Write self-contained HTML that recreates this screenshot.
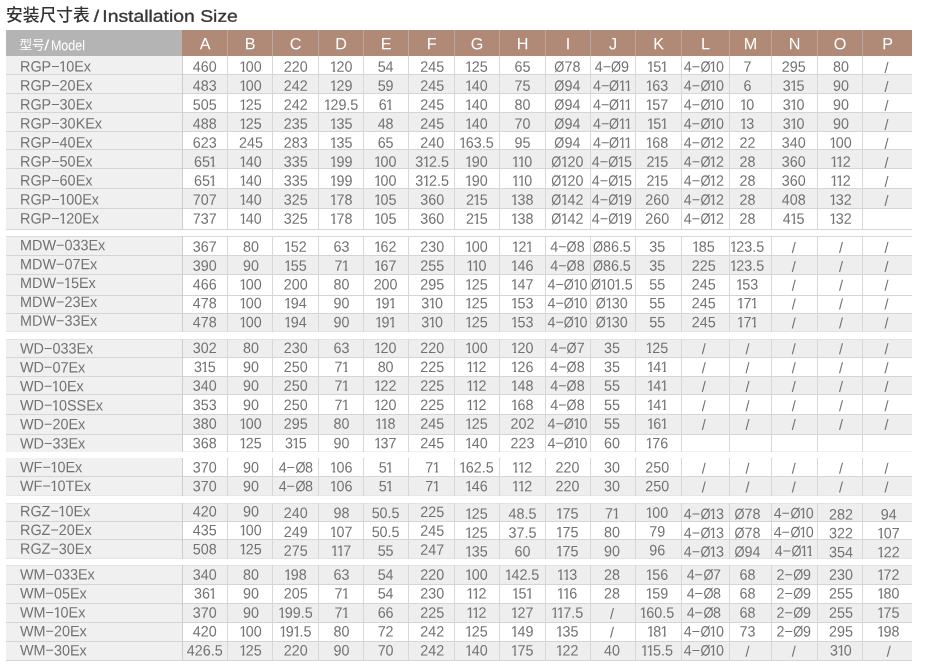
<!DOCTYPE html><html><head><meta charset="utf-8"><title>Installation Size</title><style>
html,body{margin:0;padding:0;background:#fff;}
body{width:930px;height:667px;position:relative;overflow:hidden;font-family:"Liberation Sans",sans-serif;}
.b{position:absolute;}
.t{position:absolute;white-space:nowrap;color:#727272;font-size:15px;line-height:20px;height:20px;text-align:center;}
.m{position:absolute;white-space:nowrap;color:#727272;font-size:15px;line-height:20px;height:20px;left:20px;transform-origin:0 50%;}
.h{position:absolute;white-space:nowrap;color:#fff;font-size:16.2px;line-height:26px;height:26px;top:30px;text-align:center;}
.m i,.t i{font-style:normal;display:inline-block;clip-path:polygon(0 0,100% 0,100% 13.5px,5.7px 13.5px,5.7px 100%,3.1px 100%,3.1px 13.5px,0 13.5px);}
.m i{margin:0 -0.9px 0 -0.6px;}
.t i{margin:0 -1.4px 0 -0.9px;}
.t b{font-weight:normal;display:inline-block;transform:scaleX(0.9);margin:0 -0.6px;}
#tx{position:absolute;left:0;top:0;width:930px;height:667px;will-change:transform;}
</style></head><body>
<div class="b" style="left:6px;top:30px;width:176px;height:26px;background:#b4b4b4"></div>
<div class="b" style="left:182px;top:30px;width:730px;height:26px;background:#b08a77"></div>
<div class="b" style="left:227px;top:30px;width:1px;height:26px;background:#bfa89b"></div>
<div class="b" style="left:272px;top:30px;width:1px;height:26px;background:#bfa89b"></div>
<div class="b" style="left:318px;top:30px;width:1px;height:26px;background:#bfa89b"></div>
<div class="b" style="left:363px;top:30px;width:1px;height:26px;background:#bfa89b"></div>
<div class="b" style="left:408px;top:30px;width:1px;height:26px;background:#bfa89b"></div>
<div class="b" style="left:454px;top:30px;width:1px;height:26px;background:#bfa89b"></div>
<div class="b" style="left:499px;top:30px;width:1px;height:26px;background:#bfa89b"></div>
<div class="b" style="left:545px;top:30px;width:1px;height:26px;background:#bfa89b"></div>
<div class="b" style="left:590px;top:30px;width:1px;height:26px;background:#bfa89b"></div>
<div class="b" style="left:635px;top:30px;width:1px;height:26px;background:#bfa89b"></div>
<div class="b" style="left:681px;top:30px;width:1px;height:26px;background:#bfa89b"></div>
<div class="b" style="left:729px;top:30px;width:1px;height:26px;background:#bfa89b"></div>
<div class="b" style="left:771px;top:30px;width:1px;height:26px;background:#bfa89b"></div>
<div class="b" style="left:817px;top:30px;width:1px;height:26px;background:#bfa89b"></div>
<div class="b" style="left:862px;top:30px;width:1px;height:26px;background:#bfa89b"></div>
<div class="b" style="left:6px;top:56px;width:176px;height:173px;background:#f0f0f0"></div>
<div class="b" style="left:182px;top:74px;width:730px;height:19px;background:#eeeeee"></div>
<div class="b" style="left:182px;top:112px;width:730px;height:19px;background:#eeeeee"></div>
<div class="b" style="left:182px;top:149px;width:730px;height:19px;background:#eeeeee"></div>
<div class="b" style="left:182px;top:188px;width:730px;height:20px;background:#eeeeee"></div>
<div class="b" style="left:6px;top:74px;width:906px;height:1px;background:#d5d5d5"></div>
<div class="b" style="left:6px;top:93px;width:906px;height:1px;background:#d5d5d5"></div>
<div class="b" style="left:6px;top:112px;width:906px;height:1px;background:#d5d5d5"></div>
<div class="b" style="left:6px;top:131px;width:906px;height:1px;background:#d5d5d5"></div>
<div class="b" style="left:6px;top:149px;width:906px;height:1px;background:#d5d5d5"></div>
<div class="b" style="left:6px;top:168px;width:906px;height:1px;background:#d5d5d5"></div>
<div class="b" style="left:6px;top:188px;width:906px;height:1px;background:#d5d5d5"></div>
<div class="b" style="left:6px;top:208px;width:906px;height:1px;background:#d5d5d5"></div>
<div class="b" style="left:6px;top:229px;width:906px;height:1px;background:#d5d5d5"></div>
<div class="b" style="left:182px;top:56px;width:1px;height:174px;background:#cdcdcd"></div>
<div class="b" style="left:227px;top:56px;width:1px;height:174px;background:#d7d7d7"></div>
<div class="b" style="left:272px;top:56px;width:1px;height:174px;background:#d7d7d7"></div>
<div class="b" style="left:318px;top:56px;width:1px;height:174px;background:#d7d7d7"></div>
<div class="b" style="left:363px;top:56px;width:1px;height:174px;background:#d7d7d7"></div>
<div class="b" style="left:408px;top:56px;width:1px;height:174px;background:#d7d7d7"></div>
<div class="b" style="left:454px;top:56px;width:1px;height:174px;background:#d7d7d7"></div>
<div class="b" style="left:499px;top:56px;width:1px;height:174px;background:#d7d7d7"></div>
<div class="b" style="left:545px;top:56px;width:1px;height:174px;background:#d7d7d7"></div>
<div class="b" style="left:590px;top:56px;width:1px;height:174px;background:#d7d7d7"></div>
<div class="b" style="left:635px;top:56px;width:1px;height:174px;background:#d7d7d7"></div>
<div class="b" style="left:681px;top:56px;width:1px;height:174px;background:#d7d7d7"></div>
<div class="b" style="left:729px;top:56px;width:1px;height:174px;background:#d7d7d7"></div>
<div class="b" style="left:771px;top:56px;width:1px;height:174px;background:#d7d7d7"></div>
<div class="b" style="left:817px;top:56px;width:1px;height:174px;background:#d7d7d7"></div>
<div class="b" style="left:862px;top:56px;width:1px;height:174px;background:#d7d7d7"></div>
<div class="b" style="left:6px;top:236px;width:176px;height:95px;background:#f0f0f0"></div>
<div class="b" style="left:182px;top:255px;width:730px;height:19px;background:#eeeeee"></div>
<div class="b" style="left:182px;top:313px;width:730px;height:18px;background:#eeeeee"></div>
<div class="b" style="left:6px;top:236px;width:906px;height:1px;background:#dadada"></div>
<div class="b" style="left:6px;top:255px;width:906px;height:1px;background:#d5d5d5"></div>
<div class="b" style="left:6px;top:274px;width:906px;height:1px;background:#d5d5d5"></div>
<div class="b" style="left:6px;top:295px;width:906px;height:1px;background:#d5d5d5"></div>
<div class="b" style="left:6px;top:313px;width:906px;height:1px;background:#d5d5d5"></div>
<div class="b" style="left:6px;top:331px;width:906px;height:1px;background:#e3e3e3"></div>
<div class="b" style="left:182px;top:236px;width:1px;height:96px;background:#cdcdcd"></div>
<div class="b" style="left:227px;top:236px;width:1px;height:96px;background:#d7d7d7"></div>
<div class="b" style="left:272px;top:236px;width:1px;height:96px;background:#d7d7d7"></div>
<div class="b" style="left:318px;top:236px;width:1px;height:96px;background:#d7d7d7"></div>
<div class="b" style="left:363px;top:236px;width:1px;height:96px;background:#d7d7d7"></div>
<div class="b" style="left:408px;top:236px;width:1px;height:96px;background:#d7d7d7"></div>
<div class="b" style="left:454px;top:236px;width:1px;height:96px;background:#d7d7d7"></div>
<div class="b" style="left:499px;top:236px;width:1px;height:96px;background:#d7d7d7"></div>
<div class="b" style="left:545px;top:236px;width:1px;height:96px;background:#d7d7d7"></div>
<div class="b" style="left:590px;top:236px;width:1px;height:96px;background:#d7d7d7"></div>
<div class="b" style="left:635px;top:236px;width:1px;height:96px;background:#d7d7d7"></div>
<div class="b" style="left:681px;top:236px;width:1px;height:96px;background:#d7d7d7"></div>
<div class="b" style="left:729px;top:236px;width:1px;height:96px;background:#d7d7d7"></div>
<div class="b" style="left:771px;top:236px;width:1px;height:96px;background:#d7d7d7"></div>
<div class="b" style="left:817px;top:236px;width:1px;height:96px;background:#d7d7d7"></div>
<div class="b" style="left:862px;top:236px;width:1px;height:96px;background:#d7d7d7"></div>
<div class="b" style="left:6px;top:339px;width:176px;height:112px;background:#f0f0f0"></div>
<div class="b" style="left:182px;top:339px;width:730px;height:18px;background:#eeeeee"></div>
<div class="b" style="left:182px;top:376px;width:730px;height:18px;background:#eeeeee"></div>
<div class="b" style="left:182px;top:414px;width:730px;height:20px;background:#eeeeee"></div>
<div class="b" style="left:6px;top:339px;width:906px;height:1px;background:#e3e3e3"></div>
<div class="b" style="left:6px;top:357px;width:906px;height:1px;background:#d5d5d5"></div>
<div class="b" style="left:6px;top:376px;width:906px;height:1px;background:#d5d5d5"></div>
<div class="b" style="left:6px;top:394px;width:906px;height:1px;background:#d5d5d5"></div>
<div class="b" style="left:6px;top:414px;width:906px;height:1px;background:#d5d5d5"></div>
<div class="b" style="left:6px;top:434px;width:906px;height:1px;background:#d5d5d5"></div>
<div class="b" style="left:6px;top:451px;width:906px;height:1px;background:#f1f1f1"></div>
<div class="b" style="left:182px;top:339px;width:1px;height:113px;background:#cdcdcd"></div>
<div class="b" style="left:227px;top:339px;width:1px;height:113px;background:#d7d7d7"></div>
<div class="b" style="left:272px;top:339px;width:1px;height:113px;background:#d7d7d7"></div>
<div class="b" style="left:318px;top:339px;width:1px;height:113px;background:#d7d7d7"></div>
<div class="b" style="left:363px;top:339px;width:1px;height:113px;background:#d7d7d7"></div>
<div class="b" style="left:408px;top:339px;width:1px;height:113px;background:#d7d7d7"></div>
<div class="b" style="left:454px;top:339px;width:1px;height:113px;background:#d7d7d7"></div>
<div class="b" style="left:499px;top:339px;width:1px;height:113px;background:#d7d7d7"></div>
<div class="b" style="left:545px;top:339px;width:1px;height:113px;background:#d7d7d7"></div>
<div class="b" style="left:590px;top:339px;width:1px;height:113px;background:#d7d7d7"></div>
<div class="b" style="left:635px;top:339px;width:1px;height:113px;background:#d7d7d7"></div>
<div class="b" style="left:681px;top:339px;width:1px;height:113px;background:#d7d7d7"></div>
<div class="b" style="left:729px;top:339px;width:1px;height:113px;background:#d7d7d7"></div>
<div class="b" style="left:771px;top:339px;width:1px;height:113px;background:#d7d7d7"></div>
<div class="b" style="left:817px;top:339px;width:1px;height:113px;background:#d7d7d7"></div>
<div class="b" style="left:862px;top:339px;width:1px;height:113px;background:#d7d7d7"></div>
<div class="b" style="left:6px;top:458px;width:176px;height:37px;background:#f0f0f0"></div>
<div class="b" style="left:182px;top:476px;width:730px;height:19px;background:#eeeeee"></div>
<div class="b" style="left:6px;top:476px;width:906px;height:1px;background:#d5d5d5"></div>
<div class="b" style="left:6px;top:495px;width:906px;height:1px;background:#e6e6e6"></div>
<div class="b" style="left:182px;top:458px;width:1px;height:38px;background:#cdcdcd"></div>
<div class="b" style="left:227px;top:458px;width:1px;height:38px;background:#d7d7d7"></div>
<div class="b" style="left:272px;top:458px;width:1px;height:38px;background:#d7d7d7"></div>
<div class="b" style="left:318px;top:458px;width:1px;height:38px;background:#d7d7d7"></div>
<div class="b" style="left:363px;top:458px;width:1px;height:38px;background:#d7d7d7"></div>
<div class="b" style="left:408px;top:458px;width:1px;height:38px;background:#d7d7d7"></div>
<div class="b" style="left:454px;top:458px;width:1px;height:38px;background:#d7d7d7"></div>
<div class="b" style="left:499px;top:458px;width:1px;height:38px;background:#d7d7d7"></div>
<div class="b" style="left:545px;top:458px;width:1px;height:38px;background:#d7d7d7"></div>
<div class="b" style="left:590px;top:458px;width:1px;height:38px;background:#d7d7d7"></div>
<div class="b" style="left:635px;top:458px;width:1px;height:38px;background:#d7d7d7"></div>
<div class="b" style="left:681px;top:458px;width:1px;height:38px;background:#d7d7d7"></div>
<div class="b" style="left:729px;top:458px;width:1px;height:38px;background:#d7d7d7"></div>
<div class="b" style="left:771px;top:458px;width:1px;height:38px;background:#d7d7d7"></div>
<div class="b" style="left:817px;top:458px;width:1px;height:38px;background:#d7d7d7"></div>
<div class="b" style="left:862px;top:458px;width:1px;height:38px;background:#d7d7d7"></div>
<div class="b" style="left:6px;top:503px;width:176px;height:55px;background:#f0f0f0"></div>
<div class="b" style="left:182px;top:503px;width:730px;height:18px;background:#eeeeee"></div>
<div class="b" style="left:182px;top:539px;width:730px;height:19px;background:#eeeeee"></div>
<div class="b" style="left:6px;top:503px;width:906px;height:1px;background:#e3e3e3"></div>
<div class="b" style="left:6px;top:521px;width:906px;height:1px;background:#d5d5d5"></div>
<div class="b" style="left:6px;top:539px;width:906px;height:1px;background:#d5d5d5"></div>
<div class="b" style="left:6px;top:558px;width:906px;height:1px;background:#e3e3e3"></div>
<div class="b" style="left:182px;top:503px;width:1px;height:56px;background:#cdcdcd"></div>
<div class="b" style="left:227px;top:503px;width:1px;height:56px;background:#d7d7d7"></div>
<div class="b" style="left:272px;top:503px;width:1px;height:56px;background:#d7d7d7"></div>
<div class="b" style="left:318px;top:503px;width:1px;height:56px;background:#d7d7d7"></div>
<div class="b" style="left:363px;top:503px;width:1px;height:56px;background:#d7d7d7"></div>
<div class="b" style="left:408px;top:503px;width:1px;height:56px;background:#d7d7d7"></div>
<div class="b" style="left:454px;top:503px;width:1px;height:56px;background:#d7d7d7"></div>
<div class="b" style="left:499px;top:503px;width:1px;height:56px;background:#d7d7d7"></div>
<div class="b" style="left:545px;top:503px;width:1px;height:56px;background:#d7d7d7"></div>
<div class="b" style="left:590px;top:503px;width:1px;height:56px;background:#d7d7d7"></div>
<div class="b" style="left:635px;top:503px;width:1px;height:56px;background:#d7d7d7"></div>
<div class="b" style="left:681px;top:503px;width:1px;height:56px;background:#d7d7d7"></div>
<div class="b" style="left:729px;top:503px;width:1px;height:56px;background:#d7d7d7"></div>
<div class="b" style="left:771px;top:503px;width:1px;height:56px;background:#d7d7d7"></div>
<div class="b" style="left:817px;top:503px;width:1px;height:56px;background:#d7d7d7"></div>
<div class="b" style="left:862px;top:503px;width:1px;height:56px;background:#d7d7d7"></div>
<div class="b" style="left:6px;top:565px;width:176px;height:95px;background:#f0f0f0"></div>
<div class="b" style="left:182px;top:565px;width:730px;height:19px;background:#eeeeee"></div>
<div class="b" style="left:182px;top:603px;width:730px;height:19px;background:#eeeeee"></div>
<div class="b" style="left:182px;top:641px;width:730px;height:19px;background:#eeeeee"></div>
<div class="b" style="left:6px;top:565px;width:906px;height:1px;background:#e3e3e3"></div>
<div class="b" style="left:6px;top:584px;width:906px;height:1px;background:#d5d5d5"></div>
<div class="b" style="left:6px;top:603px;width:906px;height:1px;background:#d5d5d5"></div>
<div class="b" style="left:6px;top:622px;width:906px;height:1px;background:#d5d5d5"></div>
<div class="b" style="left:6px;top:641px;width:906px;height:1px;background:#d5d5d5"></div>
<div class="b" style="left:6px;top:660px;width:906px;height:1px;background:#d5d5d5"></div>
<div class="b" style="left:182px;top:565px;width:1px;height:96px;background:#cdcdcd"></div>
<div class="b" style="left:227px;top:565px;width:1px;height:96px;background:#d7d7d7"></div>
<div class="b" style="left:272px;top:565px;width:1px;height:96px;background:#d7d7d7"></div>
<div class="b" style="left:318px;top:565px;width:1px;height:96px;background:#d7d7d7"></div>
<div class="b" style="left:363px;top:565px;width:1px;height:96px;background:#d7d7d7"></div>
<div class="b" style="left:408px;top:565px;width:1px;height:96px;background:#d7d7d7"></div>
<div class="b" style="left:454px;top:565px;width:1px;height:96px;background:#d7d7d7"></div>
<div class="b" style="left:499px;top:565px;width:1px;height:96px;background:#d7d7d7"></div>
<div class="b" style="left:545px;top:565px;width:1px;height:96px;background:#d7d7d7"></div>
<div class="b" style="left:590px;top:565px;width:1px;height:96px;background:#d7d7d7"></div>
<div class="b" style="left:635px;top:565px;width:1px;height:96px;background:#d7d7d7"></div>
<div class="b" style="left:681px;top:565px;width:1px;height:96px;background:#d7d7d7"></div>
<div class="b" style="left:729px;top:565px;width:1px;height:96px;background:#d7d7d7"></div>
<div class="b" style="left:771px;top:565px;width:1px;height:96px;background:#d7d7d7"></div>
<div class="b" style="left:817px;top:565px;width:1px;height:96px;background:#d7d7d7"></div>
<div class="b" style="left:862px;top:565px;width:1px;height:96px;background:#d7d7d7"></div>
<div id="tx">
<div class="b" style="left:5.9px;top:5.5px;width:83.75px;height:20px;font-size:16.75px;line-height:20px;color:#333;white-space:nowrap;font-family:'Liberation Sans','Noto Sans CJK SC',sans-serif;font-weight:500;">安装尺寸表</div>
<div class="b" style="left:93px;top:6px;font-size:16.7px;line-height:20px;height:20px;color:#333;white-space:nowrap;transform-origin:0 50%;transform:translate(0.7px,0.7px) scaleX(1.16) rotate(0.05deg);-webkit-text-stroke:0.3px #333"><span style="word-spacing:-1.9px">/ </span>Installation Size</div>
<div class="b" style="left:19.4px;top:34.5px;width:25.2px;height:20px;font-size:12.6px;line-height:20px;color:#fff;white-space:nowrap;font-family:'Liberation Sans','Noto Sans CJK SC',sans-serif;">型号</div>
<div class="b" style="left:50px;top:35px;font-size:14.2px;line-height:20px;height:20px;color:#fff;white-space:nowrap;transform-origin:0 50%;transform:translate(0.9px,0.2px) scaleX(0.885) rotate(0.05deg);">Model</div>
<div class="b" style="left:44px;top:35px;font-size:14.5px;line-height:20px;height:20px;color:#fff;white-space:nowrap;transform-origin:0 50%;transform:translate(0.3px,0.0px) scaleX(1.25) rotate(0.05deg);">/</div>
<div class="h" style="left:182px;width:45px;transform:translate(0.6px,0.3px) rotate(0.05deg)">A</div>
<div class="h" style="left:227px;width:45px;transform:translate(0.6px,0.3px) rotate(0.05deg)">B</div>
<div class="h" style="left:272px;width:46px;transform:translate(0.6px,0.3px) rotate(0.05deg)">C</div>
<div class="h" style="left:318px;width:45px;transform:translate(0.6px,0.3px) rotate(0.05deg)">D</div>
<div class="h" style="left:363px;width:45px;transform:translate(0.6px,0.3px) rotate(0.05deg)">E</div>
<div class="h" style="left:408px;width:46px;transform:translate(0.6px,0.3px) rotate(0.05deg)">F</div>
<div class="h" style="left:454px;width:45px;transform:translate(0.6px,0.3px) rotate(0.05deg)">G</div>
<div class="h" style="left:499px;width:46px;transform:translate(0.6px,0.3px) rotate(0.05deg)">H</div>
<div class="h" style="left:545px;width:45px;transform:translate(0.6px,0.3px) rotate(0.05deg)">I</div>
<div class="h" style="left:590px;width:45px;transform:translate(0.6px,0.3px) rotate(0.05deg)">J</div>
<div class="h" style="left:635px;width:46px;transform:translate(0.6px,0.3px) rotate(0.05deg)">K</div>
<div class="h" style="left:681px;width:48px;transform:translate(0.6px,0.3px) rotate(0.05deg)">L</div>
<div class="h" style="left:729px;width:42px;transform:translate(0.6px,0.3px) rotate(0.05deg)">M</div>
<div class="h" style="left:771px;width:46px;transform:translate(0.6px,0.3px) rotate(0.05deg)">N</div>
<div class="h" style="left:817px;width:45px;transform:translate(0.6px,0.3px) rotate(0.05deg)">O</div>
<div class="h" style="left:862px;width:50px;transform:translate(0.6px,0.3px) rotate(0.05deg)">P</div>
<div class="m" style="top:56px;transform:translate(0px,0.55px) scaleX(0.96) rotate(0.05deg)">RGP−<i>1</i>0Ex</div>
<div class="t" style="left:172px;width:65px;top:56px;transform:translate(0.3px,0.75px) scaleX(0.955) rotate(0.05deg)">460</div>
<div class="t" style="left:218px;width:65px;top:56px;transform:translate(0.4px,0.75px) scaleX(0.955) rotate(0.05deg)"><i>1</i>00</div>
<div class="t" style="left:262px;width:66px;top:56px;transform:translate(0.8px,0.75px) scaleX(0.955) rotate(0.05deg)">220</div>
<div class="t" style="left:309px;width:65px;top:56px;transform:translate(0.0px,0.75px) scaleX(0.955) rotate(0.05deg)"><i>1</i>20</div>
<div class="t" style="left:353px;width:65px;top:56px;transform:translate(0.1px,0.75px) scaleX(0.955) rotate(0.05deg)">54</div>
<div class="t" style="left:399px;width:66px;top:56px;transform:translate(0.2px,0.75px) scaleX(0.955) rotate(0.05deg)">245</div>
<div class="t" style="left:444px;width:65px;top:56px;transform:translate(0.3px,0.75px) scaleX(0.955) rotate(0.05deg)"><i>1</i>25</div>
<div class="t" style="left:489px;width:66px;top:56px;transform:translate(0.5px,0.75px) scaleX(0.955) rotate(0.05deg)">65</div>
<div class="t" style="left:535px;width:65px;top:56px;transform:translate(0.0px,0.75px) scaleX(0.955) rotate(0.05deg)"><b>Ø</b>78</div>
<div class="t" style="left:579px;width:65px;top:56px;transform:translate(0.4px,0.75px) scaleX(0.955) rotate(0.05deg)">4−<b>Ø</b>9</div>
<div class="t" style="left:624px;width:66px;top:56px;transform:translate(0.3px,0.75px) scaleX(0.955) rotate(0.05deg)"><i>1</i>5<i>1</i></div>
<div class="t" style="left:669px;width:68px;top:56px;transform:translate(0.8px,0.75px) scaleX(0.955) rotate(0.05deg)">4−<b>Ø</b><i>1</i>0</div>
<div class="t" style="left:716px;width:62px;top:56px;transform:translate(0.4px,0.75px) scaleX(0.955) rotate(0.05deg)">7</div>
<div class="t" style="left:760px;width:66px;top:56px;transform:translate(0.7px,0.75px) scaleX(0.955) rotate(0.05deg)">295</div>
<div class="t" style="left:808px;width:65px;top:56px;transform:translate(0.4px,0.75px) scaleX(0.955) rotate(0.05deg)">80</div>
<div class="t" style="left:851px;width:70px;top:57px;transform:translate(0.5px,0.75px) scaleX(0.955) rotate(0.05deg)">/</div>
<div class="m" style="top:75px;transform:translate(0px,0.54px) scaleX(0.96) rotate(0.05deg)">RGP−20Ex</div>
<div class="t" style="left:172px;width:65px;top:75px;transform:translate(0.3px,0.74px) scaleX(0.955) rotate(0.05deg)">483</div>
<div class="t" style="left:218px;width:65px;top:75px;transform:translate(0.4px,0.74px) scaleX(0.955) rotate(0.05deg)"><i>1</i>00</div>
<div class="t" style="left:262px;width:66px;top:75px;transform:translate(0.8px,0.74px) scaleX(0.955) rotate(0.05deg)">242</div>
<div class="t" style="left:309px;width:65px;top:75px;transform:translate(0.0px,0.74px) scaleX(0.955) rotate(0.05deg)"><i>1</i>29</div>
<div class="t" style="left:353px;width:65px;top:75px;transform:translate(0.1px,0.74px) scaleX(0.955) rotate(0.05deg)">59</div>
<div class="t" style="left:399px;width:66px;top:75px;transform:translate(0.2px,0.74px) scaleX(0.955) rotate(0.05deg)">245</div>
<div class="t" style="left:444px;width:65px;top:75px;transform:translate(0.3px,0.74px) scaleX(0.955) rotate(0.05deg)"><i>1</i>40</div>
<div class="t" style="left:489px;width:66px;top:75px;transform:translate(0.5px,0.74px) scaleX(0.955) rotate(0.05deg)">75</div>
<div class="t" style="left:535px;width:65px;top:75px;transform:translate(0.0px,0.74px) scaleX(0.955) rotate(0.05deg)"><b>Ø</b>94</div>
<div class="t" style="left:579px;width:65px;top:75px;transform:translate(0.4px,0.74px) scaleX(0.955) rotate(0.05deg)">4−<b>Ø</b><i>1</i><i>1</i></div>
<div class="t" style="left:624px;width:66px;top:75px;transform:translate(0.3px,0.74px) scaleX(0.955) rotate(0.05deg)"><i>1</i>63</div>
<div class="t" style="left:669px;width:68px;top:75px;transform:translate(0.8px,0.74px) scaleX(0.955) rotate(0.05deg)">4−<b>Ø</b><i>1</i>0</div>
<div class="t" style="left:716px;width:62px;top:75px;transform:translate(0.4px,0.74px) scaleX(0.955) rotate(0.05deg)">6</div>
<div class="t" style="left:760px;width:66px;top:75px;transform:translate(0.7px,0.74px) scaleX(0.955) rotate(0.05deg)">3<i>1</i>5</div>
<div class="t" style="left:808px;width:65px;top:75px;transform:translate(0.4px,0.74px) scaleX(0.955) rotate(0.05deg)">90</div>
<div class="t" style="left:851px;width:70px;top:76px;transform:translate(0.5px,0.74px) scaleX(0.955) rotate(0.05deg)">/</div>
<div class="m" style="top:94px;transform:translate(0px,0.53px) scaleX(0.96) rotate(0.05deg)">RGP−30Ex</div>
<div class="t" style="left:172px;width:65px;top:94px;transform:translate(0.3px,0.73px) scaleX(0.955) rotate(0.05deg)">505</div>
<div class="t" style="left:218px;width:65px;top:94px;transform:translate(0.4px,0.73px) scaleX(0.955) rotate(0.05deg)"><i>1</i>25</div>
<div class="t" style="left:262px;width:66px;top:94px;transform:translate(0.8px,0.73px) scaleX(0.955) rotate(0.05deg)">242</div>
<div class="t" style="left:309px;width:65px;top:94px;transform:translate(0.0px,0.73px) scaleX(0.955) rotate(0.05deg)"><i>1</i>29.5</div>
<div class="t" style="left:353px;width:65px;top:94px;transform:translate(0.1px,0.73px) scaleX(0.955) rotate(0.05deg)">6<i>1</i></div>
<div class="t" style="left:399px;width:66px;top:94px;transform:translate(0.2px,0.73px) scaleX(0.955) rotate(0.05deg)">245</div>
<div class="t" style="left:444px;width:65px;top:94px;transform:translate(0.3px,0.73px) scaleX(0.955) rotate(0.05deg)"><i>1</i>40</div>
<div class="t" style="left:489px;width:66px;top:94px;transform:translate(0.5px,0.73px) scaleX(0.955) rotate(0.05deg)">80</div>
<div class="t" style="left:535px;width:65px;top:94px;transform:translate(0.0px,0.73px) scaleX(0.955) rotate(0.05deg)"><b>Ø</b>94</div>
<div class="t" style="left:579px;width:65px;top:94px;transform:translate(0.4px,0.73px) scaleX(0.955) rotate(0.05deg)">4−<b>Ø</b><i>1</i><i>1</i></div>
<div class="t" style="left:624px;width:66px;top:94px;transform:translate(0.3px,0.73px) scaleX(0.955) rotate(0.05deg)"><i>1</i>57</div>
<div class="t" style="left:669px;width:68px;top:94px;transform:translate(0.8px,0.73px) scaleX(0.955) rotate(0.05deg)">4−<b>Ø</b><i>1</i>0</div>
<div class="t" style="left:716px;width:62px;top:94px;transform:translate(0.4px,0.73px) scaleX(0.955) rotate(0.05deg)"><i>1</i>0</div>
<div class="t" style="left:760px;width:66px;top:94px;transform:translate(0.7px,0.73px) scaleX(0.955) rotate(0.05deg)">3<i>1</i>0</div>
<div class="t" style="left:808px;width:65px;top:94px;transform:translate(0.4px,0.73px) scaleX(0.955) rotate(0.05deg)">90</div>
<div class="t" style="left:851px;width:70px;top:95px;transform:translate(0.5px,0.73px) scaleX(0.955) rotate(0.05deg)">/</div>
<div class="m" style="top:113px;transform:translate(0px,0.52px) scaleX(0.96) rotate(0.05deg)">RGP−30KEx</div>
<div class="t" style="left:172px;width:65px;top:113px;transform:translate(0.3px,0.72px) scaleX(0.955) rotate(0.05deg)">488</div>
<div class="t" style="left:218px;width:65px;top:113px;transform:translate(0.4px,0.72px) scaleX(0.955) rotate(0.05deg)"><i>1</i>25</div>
<div class="t" style="left:262px;width:66px;top:113px;transform:translate(0.8px,0.72px) scaleX(0.955) rotate(0.05deg)">235</div>
<div class="t" style="left:309px;width:65px;top:113px;transform:translate(0.0px,0.72px) scaleX(0.955) rotate(0.05deg)"><i>1</i>35</div>
<div class="t" style="left:353px;width:65px;top:113px;transform:translate(0.1px,0.72px) scaleX(0.955) rotate(0.05deg)">48</div>
<div class="t" style="left:399px;width:66px;top:113px;transform:translate(0.2px,0.72px) scaleX(0.955) rotate(0.05deg)">245</div>
<div class="t" style="left:444px;width:65px;top:113px;transform:translate(0.3px,0.72px) scaleX(0.955) rotate(0.05deg)"><i>1</i>40</div>
<div class="t" style="left:489px;width:66px;top:113px;transform:translate(0.5px,0.72px) scaleX(0.955) rotate(0.05deg)">70</div>
<div class="t" style="left:535px;width:65px;top:113px;transform:translate(0.0px,0.72px) scaleX(0.955) rotate(0.05deg)"><b>Ø</b>94</div>
<div class="t" style="left:579px;width:65px;top:113px;transform:translate(0.4px,0.72px) scaleX(0.955) rotate(0.05deg)">4−<b>Ø</b><i>1</i><i>1</i></div>
<div class="t" style="left:624px;width:66px;top:113px;transform:translate(0.3px,0.72px) scaleX(0.955) rotate(0.05deg)"><i>1</i>5<i>1</i></div>
<div class="t" style="left:669px;width:68px;top:113px;transform:translate(0.8px,0.72px) scaleX(0.955) rotate(0.05deg)">4−<b>Ø</b><i>1</i>0</div>
<div class="t" style="left:716px;width:62px;top:113px;transform:translate(0.4px,0.72px) scaleX(0.955) rotate(0.05deg)"><i>1</i>3</div>
<div class="t" style="left:760px;width:66px;top:113px;transform:translate(0.7px,0.72px) scaleX(0.955) rotate(0.05deg)">3<i>1</i>0</div>
<div class="t" style="left:808px;width:65px;top:113px;transform:translate(0.4px,0.72px) scaleX(0.955) rotate(0.05deg)">90</div>
<div class="t" style="left:851px;width:70px;top:114px;transform:translate(0.5px,0.72px) scaleX(0.955) rotate(0.05deg)">/</div>
<div class="m" style="top:132px;transform:translate(0px,0.51px) scaleX(0.96) rotate(0.05deg)">RGP−40Ex</div>
<div class="t" style="left:172px;width:65px;top:132px;transform:translate(0.3px,0.71px) scaleX(0.955) rotate(0.05deg)">623</div>
<div class="t" style="left:218px;width:65px;top:132px;transform:translate(0.4px,0.71px) scaleX(0.955) rotate(0.05deg)">245</div>
<div class="t" style="left:262px;width:66px;top:132px;transform:translate(0.8px,0.71px) scaleX(0.955) rotate(0.05deg)">283</div>
<div class="t" style="left:309px;width:65px;top:132px;transform:translate(0.0px,0.71px) scaleX(0.955) rotate(0.05deg)"><i>1</i>35</div>
<div class="t" style="left:353px;width:65px;top:132px;transform:translate(0.1px,0.71px) scaleX(0.955) rotate(0.05deg)">65</div>
<div class="t" style="left:399px;width:66px;top:132px;transform:translate(0.2px,0.71px) scaleX(0.955) rotate(0.05deg)">240</div>
<div class="t" style="left:444px;width:65px;top:132px;transform:translate(0.3px,0.71px) scaleX(0.955) rotate(0.05deg)"><i>1</i>63.5</div>
<div class="t" style="left:489px;width:66px;top:132px;transform:translate(0.5px,0.71px) scaleX(0.955) rotate(0.05deg)">95</div>
<div class="t" style="left:535px;width:65px;top:132px;transform:translate(0.0px,0.71px) scaleX(0.955) rotate(0.05deg)"><b>Ø</b>94</div>
<div class="t" style="left:579px;width:65px;top:132px;transform:translate(0.4px,0.71px) scaleX(0.955) rotate(0.05deg)">4−<b>Ø</b><i>1</i><i>1</i></div>
<div class="t" style="left:624px;width:66px;top:132px;transform:translate(0.3px,0.71px) scaleX(0.955) rotate(0.05deg)"><i>1</i>68</div>
<div class="t" style="left:669px;width:68px;top:132px;transform:translate(0.8px,0.71px) scaleX(0.955) rotate(0.05deg)">4−<b>Ø</b><i>1</i>2</div>
<div class="t" style="left:716px;width:62px;top:132px;transform:translate(0.4px,0.71px) scaleX(0.955) rotate(0.05deg)">22</div>
<div class="t" style="left:760px;width:66px;top:132px;transform:translate(0.7px,0.71px) scaleX(0.955) rotate(0.05deg)">340</div>
<div class="t" style="left:808px;width:65px;top:132px;transform:translate(0.4px,0.71px) scaleX(0.955) rotate(0.05deg)"><i>1</i>00</div>
<div class="t" style="left:851px;width:70px;top:133px;transform:translate(0.5px,0.71px) scaleX(0.955) rotate(0.05deg)">/</div>
<div class="m" style="top:151px;transform:translate(0px,0.5px) scaleX(0.96) rotate(0.05deg)">RGP−50Ex</div>
<div class="t" style="left:172px;width:65px;top:151px;transform:translate(0.3px,0.7px) scaleX(0.955) rotate(0.05deg)">65<i>1</i></div>
<div class="t" style="left:218px;width:65px;top:151px;transform:translate(0.4px,0.7px) scaleX(0.955) rotate(0.05deg)"><i>1</i>40</div>
<div class="t" style="left:262px;width:66px;top:151px;transform:translate(0.8px,0.7px) scaleX(0.955) rotate(0.05deg)">335</div>
<div class="t" style="left:309px;width:65px;top:151px;transform:translate(0.0px,0.7px) scaleX(0.955) rotate(0.05deg)"><i>1</i>99</div>
<div class="t" style="left:353px;width:65px;top:151px;transform:translate(0.1px,0.7px) scaleX(0.955) rotate(0.05deg)"><i>1</i>00</div>
<div class="t" style="left:399px;width:66px;top:151px;transform:translate(0.2px,0.7px) scaleX(0.955) rotate(0.05deg)">3<i>1</i>2.5</div>
<div class="t" style="left:444px;width:65px;top:151px;transform:translate(0.3px,0.7px) scaleX(0.955) rotate(0.05deg)"><i>1</i>90</div>
<div class="t" style="left:489px;width:66px;top:151px;transform:translate(0.5px,0.7px) scaleX(0.955) rotate(0.05deg)"><i>1</i><i>1</i>0</div>
<div class="t" style="left:535px;width:65px;top:151px;transform:translate(0.0px,0.7px) scaleX(0.955) rotate(0.05deg)"><b>Ø</b><i>1</i>20</div>
<div class="t" style="left:579px;width:65px;top:151px;transform:translate(0.4px,0.7px) scaleX(0.955) rotate(0.05deg)">4−<b>Ø</b><i>1</i>5</div>
<div class="t" style="left:624px;width:66px;top:151px;transform:translate(0.3px,0.7px) scaleX(0.955) rotate(0.05deg)">2<i>1</i>5</div>
<div class="t" style="left:669px;width:68px;top:151px;transform:translate(0.8px,0.7px) scaleX(0.955) rotate(0.05deg)">4−<b>Ø</b><i>1</i>2</div>
<div class="t" style="left:716px;width:62px;top:151px;transform:translate(0.4px,0.7px) scaleX(0.955) rotate(0.05deg)">28</div>
<div class="t" style="left:760px;width:66px;top:151px;transform:translate(0.7px,0.7px) scaleX(0.955) rotate(0.05deg)">360</div>
<div class="t" style="left:808px;width:65px;top:151px;transform:translate(0.4px,0.7px) scaleX(0.955) rotate(0.05deg)"><i>1</i><i>1</i>2</div>
<div class="t" style="left:851px;width:70px;top:152px;transform:translate(0.5px,0.7px) scaleX(0.955) rotate(0.05deg)">/</div>
<div class="m" style="top:170px;transform:translate(0px,0.49px) scaleX(0.96) rotate(0.05deg)">RGP−60Ex</div>
<div class="t" style="left:172px;width:65px;top:170px;transform:translate(0.3px,0.69px) scaleX(0.955) rotate(0.05deg)">65<i>1</i></div>
<div class="t" style="left:218px;width:65px;top:170px;transform:translate(0.4px,0.69px) scaleX(0.955) rotate(0.05deg)"><i>1</i>40</div>
<div class="t" style="left:262px;width:66px;top:170px;transform:translate(0.8px,0.69px) scaleX(0.955) rotate(0.05deg)">335</div>
<div class="t" style="left:309px;width:65px;top:170px;transform:translate(0.0px,0.69px) scaleX(0.955) rotate(0.05deg)"><i>1</i>99</div>
<div class="t" style="left:353px;width:65px;top:170px;transform:translate(0.1px,0.69px) scaleX(0.955) rotate(0.05deg)"><i>1</i>00</div>
<div class="t" style="left:399px;width:66px;top:170px;transform:translate(0.2px,0.69px) scaleX(0.955) rotate(0.05deg)">3<i>1</i>2.5</div>
<div class="t" style="left:444px;width:65px;top:170px;transform:translate(0.3px,0.69px) scaleX(0.955) rotate(0.05deg)"><i>1</i>90</div>
<div class="t" style="left:489px;width:66px;top:170px;transform:translate(0.5px,0.69px) scaleX(0.955) rotate(0.05deg)"><i>1</i><i>1</i>0</div>
<div class="t" style="left:535px;width:65px;top:170px;transform:translate(0.0px,0.69px) scaleX(0.955) rotate(0.05deg)"><b>Ø</b><i>1</i>20</div>
<div class="t" style="left:579px;width:65px;top:170px;transform:translate(0.4px,0.69px) scaleX(0.955) rotate(0.05deg)">4−<b>Ø</b><i>1</i>5</div>
<div class="t" style="left:624px;width:66px;top:170px;transform:translate(0.3px,0.69px) scaleX(0.955) rotate(0.05deg)">2<i>1</i>5</div>
<div class="t" style="left:669px;width:68px;top:170px;transform:translate(0.8px,0.69px) scaleX(0.955) rotate(0.05deg)">4−<b>Ø</b><i>1</i>2</div>
<div class="t" style="left:716px;width:62px;top:170px;transform:translate(0.4px,0.69px) scaleX(0.955) rotate(0.05deg)">28</div>
<div class="t" style="left:760px;width:66px;top:170px;transform:translate(0.7px,0.69px) scaleX(0.955) rotate(0.05deg)">360</div>
<div class="t" style="left:808px;width:65px;top:170px;transform:translate(0.4px,0.69px) scaleX(0.955) rotate(0.05deg)"><i>1</i><i>1</i>2</div>
<div class="t" style="left:851px;width:70px;top:171px;transform:translate(0.5px,0.69px) scaleX(0.955) rotate(0.05deg)">/</div>
<div class="m" style="top:189px;transform:translate(0px,0.48px) scaleX(0.96) rotate(0.05deg)">RGP−<i>1</i>00Ex</div>
<div class="t" style="left:172px;width:65px;top:189px;transform:translate(0.3px,0.68px) scaleX(0.955) rotate(0.05deg)">707</div>
<div class="t" style="left:218px;width:65px;top:189px;transform:translate(0.4px,0.68px) scaleX(0.955) rotate(0.05deg)"><i>1</i>40</div>
<div class="t" style="left:262px;width:66px;top:189px;transform:translate(0.8px,0.68px) scaleX(0.955) rotate(0.05deg)">325</div>
<div class="t" style="left:309px;width:65px;top:189px;transform:translate(0.0px,0.68px) scaleX(0.955) rotate(0.05deg)"><i>1</i>78</div>
<div class="t" style="left:353px;width:65px;top:189px;transform:translate(0.1px,0.68px) scaleX(0.955) rotate(0.05deg)"><i>1</i>05</div>
<div class="t" style="left:399px;width:66px;top:189px;transform:translate(0.2px,0.68px) scaleX(0.955) rotate(0.05deg)">360</div>
<div class="t" style="left:444px;width:65px;top:189px;transform:translate(0.3px,0.68px) scaleX(0.955) rotate(0.05deg)">2<i>1</i>5</div>
<div class="t" style="left:489px;width:66px;top:189px;transform:translate(0.5px,0.68px) scaleX(0.955) rotate(0.05deg)"><i>1</i>38</div>
<div class="t" style="left:535px;width:65px;top:189px;transform:translate(0.0px,0.68px) scaleX(0.955) rotate(0.05deg)"><b>Ø</b><i>1</i>42</div>
<div class="t" style="left:579px;width:65px;top:189px;transform:translate(0.4px,0.68px) scaleX(0.955) rotate(0.05deg)">4−<b>Ø</b><i>1</i>9</div>
<div class="t" style="left:624px;width:66px;top:189px;transform:translate(0.3px,0.68px) scaleX(0.955) rotate(0.05deg)">260</div>
<div class="t" style="left:669px;width:68px;top:189px;transform:translate(0.8px,0.68px) scaleX(0.955) rotate(0.05deg)">4−<b>Ø</b><i>1</i>2</div>
<div class="t" style="left:716px;width:62px;top:189px;transform:translate(0.4px,0.68px) scaleX(0.955) rotate(0.05deg)">28</div>
<div class="t" style="left:760px;width:66px;top:189px;transform:translate(0.7px,0.68px) scaleX(0.955) rotate(0.05deg)">408</div>
<div class="t" style="left:808px;width:65px;top:189px;transform:translate(0.4px,0.68px) scaleX(0.955) rotate(0.05deg)"><i>1</i>32</div>
<div class="t" style="left:851px;width:70px;top:190px;transform:translate(0.5px,0.68px) scaleX(0.955) rotate(0.05deg)">/</div>
<div class="m" style="top:208px;transform:translate(0px,0.47px) scaleX(0.96) rotate(0.05deg)">RGP−<i>1</i>20Ex</div>
<div class="t" style="left:172px;width:65px;top:208px;transform:translate(0.3px,0.67px) scaleX(0.955) rotate(0.05deg)">737</div>
<div class="t" style="left:218px;width:65px;top:208px;transform:translate(0.4px,0.67px) scaleX(0.955) rotate(0.05deg)"><i>1</i>40</div>
<div class="t" style="left:262px;width:66px;top:208px;transform:translate(0.8px,0.67px) scaleX(0.955) rotate(0.05deg)">325</div>
<div class="t" style="left:309px;width:65px;top:208px;transform:translate(0.0px,0.67px) scaleX(0.955) rotate(0.05deg)"><i>1</i>78</div>
<div class="t" style="left:353px;width:65px;top:208px;transform:translate(0.1px,0.67px) scaleX(0.955) rotate(0.05deg)"><i>1</i>05</div>
<div class="t" style="left:399px;width:66px;top:208px;transform:translate(0.2px,0.67px) scaleX(0.955) rotate(0.05deg)">360</div>
<div class="t" style="left:444px;width:65px;top:208px;transform:translate(0.3px,0.67px) scaleX(0.955) rotate(0.05deg)">2<i>1</i>5</div>
<div class="t" style="left:489px;width:66px;top:208px;transform:translate(0.5px,0.67px) scaleX(0.955) rotate(0.05deg)"><i>1</i>38</div>
<div class="t" style="left:535px;width:65px;top:208px;transform:translate(0.0px,0.67px) scaleX(0.955) rotate(0.05deg)"><b>Ø</b><i>1</i>42</div>
<div class="t" style="left:579px;width:65px;top:208px;transform:translate(0.4px,0.67px) scaleX(0.955) rotate(0.05deg)">4−<b>Ø</b><i>1</i>9</div>
<div class="t" style="left:624px;width:66px;top:208px;transform:translate(0.3px,0.67px) scaleX(0.955) rotate(0.05deg)">260</div>
<div class="t" style="left:669px;width:68px;top:208px;transform:translate(0.8px,0.67px) scaleX(0.955) rotate(0.05deg)">4−<b>Ø</b><i>1</i>2</div>
<div class="t" style="left:716px;width:62px;top:208px;transform:translate(0.4px,0.67px) scaleX(0.955) rotate(0.05deg)">28</div>
<div class="t" style="left:760px;width:66px;top:208px;transform:translate(0.7px,0.67px) scaleX(0.955) rotate(0.05deg)">4<i>1</i>5</div>
<div class="t" style="left:808px;width:65px;top:208px;transform:translate(0.4px,0.67px) scaleX(0.955) rotate(0.05deg)"><i>1</i>32</div>
<div class="m" style="top:235px;transform:translate(0px,0.25px) scaleX(0.96) rotate(0.05deg)">MDW−033Ex</div>
<div class="t" style="left:172px;width:65px;top:236px;transform:translate(0.3px,0.65px) scaleX(0.955) rotate(0.05deg)">367</div>
<div class="t" style="left:218px;width:65px;top:236px;transform:translate(0.4px,0.65px) scaleX(0.955) rotate(0.05deg)">80</div>
<div class="t" style="left:262px;width:66px;top:236px;transform:translate(0.8px,0.65px) scaleX(0.955) rotate(0.05deg)"><i>1</i>52</div>
<div class="t" style="left:309px;width:65px;top:236px;transform:translate(0.0px,0.65px) scaleX(0.955) rotate(0.05deg)">63</div>
<div class="t" style="left:353px;width:65px;top:236px;transform:translate(0.1px,0.65px) scaleX(0.955) rotate(0.05deg)"><i>1</i>62</div>
<div class="t" style="left:399px;width:66px;top:236px;transform:translate(0.2px,0.65px) scaleX(0.955) rotate(0.05deg)">230</div>
<div class="t" style="left:444px;width:65px;top:236px;transform:translate(0.3px,0.65px) scaleX(0.955) rotate(0.05deg)"><i>1</i>00</div>
<div class="t" style="left:489px;width:66px;top:236px;transform:translate(0.5px,0.65px) scaleX(0.955) rotate(0.05deg)"><i>1</i>2<i>1</i></div>
<div class="t" style="left:535px;width:65px;top:236px;transform:translate(0.0px,0.65px) scaleX(0.955) rotate(0.05deg)">4−<b>Ø</b>8</div>
<div class="t" style="left:579px;width:65px;top:236px;transform:translate(0.4px,0.65px) scaleX(0.955) rotate(0.05deg)"><b>Ø</b>86.5</div>
<div class="t" style="left:624px;width:66px;top:236px;transform:translate(0.3px,0.65px) scaleX(0.955) rotate(0.05deg)">35</div>
<div class="t" style="left:669px;width:68px;top:236px;transform:translate(0.8px,0.65px) scaleX(0.955) rotate(0.05deg)"><i>1</i>85</div>
<div class="t" style="left:716px;width:62px;top:236px;transform:translate(0.4px,0.65px) scaleX(0.955) rotate(0.05deg)"><i>1</i>23.5</div>
<div class="t" style="left:760px;width:66px;top:237px;transform:translate(0.7px,0.65px) scaleX(0.955) rotate(0.05deg)">/</div>
<div class="t" style="left:808px;width:65px;top:237px;transform:translate(0.4px,0.65px) scaleX(0.955) rotate(0.05deg)">/</div>
<div class="t" style="left:851px;width:70px;top:237px;transform:translate(0.5px,0.65px) scaleX(0.955) rotate(0.05deg)">/</div>
<div class="m" style="top:254px;transform:translate(0px,0.25px) scaleX(0.96) rotate(0.05deg)">MDW−07Ex</div>
<div class="t" style="left:172px;width:65px;top:255px;transform:translate(0.3px,0.65px) scaleX(0.955) rotate(0.05deg)">390</div>
<div class="t" style="left:218px;width:65px;top:255px;transform:translate(0.4px,0.65px) scaleX(0.955) rotate(0.05deg)">90</div>
<div class="t" style="left:262px;width:66px;top:255px;transform:translate(0.8px,0.65px) scaleX(0.955) rotate(0.05deg)"><i>1</i>55</div>
<div class="t" style="left:309px;width:65px;top:255px;transform:translate(0.0px,0.65px) scaleX(0.955) rotate(0.05deg)">7<i>1</i></div>
<div class="t" style="left:353px;width:65px;top:255px;transform:translate(0.1px,0.65px) scaleX(0.955) rotate(0.05deg)"><i>1</i>67</div>
<div class="t" style="left:399px;width:66px;top:255px;transform:translate(0.2px,0.65px) scaleX(0.955) rotate(0.05deg)">255</div>
<div class="t" style="left:444px;width:65px;top:255px;transform:translate(0.3px,0.65px) scaleX(0.955) rotate(0.05deg)"><i>1</i><i>1</i>0</div>
<div class="t" style="left:489px;width:66px;top:255px;transform:translate(0.5px,0.65px) scaleX(0.955) rotate(0.05deg)"><i>1</i>46</div>
<div class="t" style="left:535px;width:65px;top:255px;transform:translate(0.0px,0.65px) scaleX(0.955) rotate(0.05deg)">4−<b>Ø</b>8</div>
<div class="t" style="left:579px;width:65px;top:255px;transform:translate(0.4px,0.65px) scaleX(0.955) rotate(0.05deg)"><b>Ø</b>86.5</div>
<div class="t" style="left:624px;width:66px;top:255px;transform:translate(0.3px,0.65px) scaleX(0.955) rotate(0.05deg)">35</div>
<div class="t" style="left:669px;width:68px;top:255px;transform:translate(0.8px,0.65px) scaleX(0.955) rotate(0.05deg)">225</div>
<div class="t" style="left:716px;width:62px;top:255px;transform:translate(0.4px,0.65px) scaleX(0.955) rotate(0.05deg)"><i>1</i>23.5</div>
<div class="t" style="left:760px;width:66px;top:256px;transform:translate(0.7px,0.65px) scaleX(0.955) rotate(0.05deg)">/</div>
<div class="t" style="left:808px;width:65px;top:256px;transform:translate(0.4px,0.65px) scaleX(0.955) rotate(0.05deg)">/</div>
<div class="t" style="left:851px;width:70px;top:256px;transform:translate(0.5px,0.65px) scaleX(0.955) rotate(0.05deg)">/</div>
<div class="m" style="top:273px;transform:translate(0px,0.05px) scaleX(0.96) rotate(0.05deg)">MDW−<i>1</i>5Ex</div>
<div class="t" style="left:172px;width:65px;top:274px;transform:translate(0.3px,0.45px) scaleX(0.955) rotate(0.05deg)">466</div>
<div class="t" style="left:218px;width:65px;top:274px;transform:translate(0.4px,0.45px) scaleX(0.955) rotate(0.05deg)"><i>1</i>00</div>
<div class="t" style="left:262px;width:66px;top:274px;transform:translate(0.8px,0.45px) scaleX(0.955) rotate(0.05deg)">200</div>
<div class="t" style="left:309px;width:65px;top:274px;transform:translate(0.0px,0.45px) scaleX(0.955) rotate(0.05deg)">80</div>
<div class="t" style="left:353px;width:65px;top:274px;transform:translate(0.1px,0.45px) scaleX(0.955) rotate(0.05deg)">200</div>
<div class="t" style="left:399px;width:66px;top:274px;transform:translate(0.2px,0.45px) scaleX(0.955) rotate(0.05deg)">295</div>
<div class="t" style="left:444px;width:65px;top:274px;transform:translate(0.3px,0.45px) scaleX(0.955) rotate(0.05deg)"><i>1</i>25</div>
<div class="t" style="left:489px;width:66px;top:274px;transform:translate(0.5px,0.45px) scaleX(0.955) rotate(0.05deg)"><i>1</i>47</div>
<div class="t" style="left:535px;width:65px;top:274px;transform:translate(0.0px,0.45px) scaleX(0.955) rotate(0.05deg)">4−<b>Ø</b><i>1</i>0</div>
<div class="t" style="left:579px;width:65px;top:274px;transform:translate(0.4px,0.45px) scaleX(0.955) rotate(0.05deg)"><b>Ø</b><i>1</i>0<i>1</i>.5</div>
<div class="t" style="left:624px;width:66px;top:274px;transform:translate(0.3px,0.45px) scaleX(0.955) rotate(0.05deg)">55</div>
<div class="t" style="left:669px;width:68px;top:274px;transform:translate(0.8px,0.45px) scaleX(0.955) rotate(0.05deg)">245</div>
<div class="t" style="left:716px;width:62px;top:274px;transform:translate(0.4px,0.45px) scaleX(0.955) rotate(0.05deg)"><i>1</i>53</div>
<div class="t" style="left:760px;width:66px;top:275px;transform:translate(0.7px,0.45px) scaleX(0.955) rotate(0.05deg)">/</div>
<div class="t" style="left:808px;width:65px;top:275px;transform:translate(0.4px,0.45px) scaleX(0.955) rotate(0.05deg)">/</div>
<div class="t" style="left:851px;width:70px;top:275px;transform:translate(0.5px,0.45px) scaleX(0.955) rotate(0.05deg)">/</div>
<div class="m" style="top:291px;transform:translate(0px,0.95px) scaleX(0.96) rotate(0.05deg)">MDW−23Ex</div>
<div class="t" style="left:172px;width:65px;top:293px;transform:translate(0.3px,0.35px) scaleX(0.955) rotate(0.05deg)">478</div>
<div class="t" style="left:218px;width:65px;top:293px;transform:translate(0.4px,0.35px) scaleX(0.955) rotate(0.05deg)"><i>1</i>00</div>
<div class="t" style="left:262px;width:66px;top:293px;transform:translate(0.8px,0.35px) scaleX(0.955) rotate(0.05deg)"><i>1</i>94</div>
<div class="t" style="left:309px;width:65px;top:293px;transform:translate(0.0px,0.35px) scaleX(0.955) rotate(0.05deg)">90</div>
<div class="t" style="left:353px;width:65px;top:293px;transform:translate(0.1px,0.35px) scaleX(0.955) rotate(0.05deg)"><i>1</i>9<i>1</i></div>
<div class="t" style="left:399px;width:66px;top:293px;transform:translate(0.2px,0.35px) scaleX(0.955) rotate(0.05deg)">3<i>1</i>0</div>
<div class="t" style="left:444px;width:65px;top:293px;transform:translate(0.3px,0.35px) scaleX(0.955) rotate(0.05deg)"><i>1</i>25</div>
<div class="t" style="left:489px;width:66px;top:293px;transform:translate(0.5px,0.35px) scaleX(0.955) rotate(0.05deg)"><i>1</i>53</div>
<div class="t" style="left:535px;width:65px;top:293px;transform:translate(0.0px,0.35px) scaleX(0.955) rotate(0.05deg)">4−<b>Ø</b><i>1</i>0</div>
<div class="t" style="left:579px;width:65px;top:293px;transform:translate(0.4px,0.35px) scaleX(0.955) rotate(0.05deg)"><b>Ø</b><i>1</i>30</div>
<div class="t" style="left:624px;width:66px;top:293px;transform:translate(0.3px,0.35px) scaleX(0.955) rotate(0.05deg)">55</div>
<div class="t" style="left:669px;width:68px;top:293px;transform:translate(0.8px,0.35px) scaleX(0.955) rotate(0.05deg)">245</div>
<div class="t" style="left:716px;width:62px;top:293px;transform:translate(0.4px,0.35px) scaleX(0.955) rotate(0.05deg)"><i>1</i>7<i>1</i></div>
<div class="t" style="left:760px;width:66px;top:294px;transform:translate(0.7px,0.35px) scaleX(0.955) rotate(0.05deg)">/</div>
<div class="t" style="left:808px;width:65px;top:294px;transform:translate(0.4px,0.35px) scaleX(0.955) rotate(0.05deg)">/</div>
<div class="t" style="left:851px;width:70px;top:294px;transform:translate(0.5px,0.35px) scaleX(0.955) rotate(0.05deg)">/</div>
<div class="m" style="top:310px;transform:translate(0px,0.75px) scaleX(0.96) rotate(0.05deg)">MDW−33Ex</div>
<div class="t" style="left:172px;width:65px;top:312px;transform:translate(0.3px,0.15px) scaleX(0.955) rotate(0.05deg)">478</div>
<div class="t" style="left:218px;width:65px;top:312px;transform:translate(0.4px,0.15px) scaleX(0.955) rotate(0.05deg)"><i>1</i>00</div>
<div class="t" style="left:262px;width:66px;top:312px;transform:translate(0.8px,0.15px) scaleX(0.955) rotate(0.05deg)"><i>1</i>94</div>
<div class="t" style="left:309px;width:65px;top:312px;transform:translate(0.0px,0.15px) scaleX(0.955) rotate(0.05deg)">90</div>
<div class="t" style="left:353px;width:65px;top:312px;transform:translate(0.1px,0.15px) scaleX(0.955) rotate(0.05deg)"><i>1</i>9<i>1</i></div>
<div class="t" style="left:399px;width:66px;top:312px;transform:translate(0.2px,0.15px) scaleX(0.955) rotate(0.05deg)">3<i>1</i>0</div>
<div class="t" style="left:444px;width:65px;top:312px;transform:translate(0.3px,0.15px) scaleX(0.955) rotate(0.05deg)"><i>1</i>25</div>
<div class="t" style="left:489px;width:66px;top:312px;transform:translate(0.5px,0.15px) scaleX(0.955) rotate(0.05deg)"><i>1</i>53</div>
<div class="t" style="left:535px;width:65px;top:312px;transform:translate(0.0px,0.15px) scaleX(0.955) rotate(0.05deg)">4−<b>Ø</b><i>1</i>0</div>
<div class="t" style="left:579px;width:65px;top:312px;transform:translate(0.4px,0.15px) scaleX(0.955) rotate(0.05deg)"><b>Ø</b><i>1</i>30</div>
<div class="t" style="left:624px;width:66px;top:312px;transform:translate(0.3px,0.15px) scaleX(0.955) rotate(0.05deg)">55</div>
<div class="t" style="left:669px;width:68px;top:312px;transform:translate(0.8px,0.15px) scaleX(0.955) rotate(0.05deg)">245</div>
<div class="t" style="left:716px;width:62px;top:312px;transform:translate(0.4px,0.15px) scaleX(0.955) rotate(0.05deg)"><i>1</i>7<i>1</i></div>
<div class="t" style="left:760px;width:66px;top:313px;transform:translate(0.7px,0.15px) scaleX(0.955) rotate(0.05deg)">/</div>
<div class="t" style="left:808px;width:65px;top:313px;transform:translate(0.4px,0.15px) scaleX(0.955) rotate(0.05deg)">/</div>
<div class="t" style="left:851px;width:70px;top:313px;transform:translate(0.5px,0.15px) scaleX(0.955) rotate(0.05deg)">/</div>
<div class="m" style="top:338px;transform:translate(0px,0.45px) scaleX(0.96) rotate(0.05deg)">WD−033Ex</div>
<div class="t" style="left:172px;width:65px;top:338px;transform:translate(0.3px,0.05px) scaleX(0.955) rotate(0.05deg)">302</div>
<div class="t" style="left:218px;width:65px;top:338px;transform:translate(0.4px,0.05px) scaleX(0.955) rotate(0.05deg)">80</div>
<div class="t" style="left:262px;width:66px;top:338px;transform:translate(0.8px,0.05px) scaleX(0.955) rotate(0.05deg)">230</div>
<div class="t" style="left:309px;width:65px;top:338px;transform:translate(0.0px,0.05px) scaleX(0.955) rotate(0.05deg)">63</div>
<div class="t" style="left:353px;width:65px;top:338px;transform:translate(0.1px,0.05px) scaleX(0.955) rotate(0.05deg)"><i>1</i>20</div>
<div class="t" style="left:399px;width:66px;top:338px;transform:translate(0.2px,0.05px) scaleX(0.955) rotate(0.05deg)">220</div>
<div class="t" style="left:444px;width:65px;top:338px;transform:translate(0.3px,0.05px) scaleX(0.955) rotate(0.05deg)"><i>1</i>00</div>
<div class="t" style="left:489px;width:66px;top:338px;transform:translate(0.5px,0.05px) scaleX(0.955) rotate(0.05deg)"><i>1</i>20</div>
<div class="t" style="left:535px;width:65px;top:338px;transform:translate(0.0px,0.05px) scaleX(0.955) rotate(0.05deg)">4−<b>Ø</b>7</div>
<div class="t" style="left:579px;width:65px;top:338px;transform:translate(0.4px,0.05px) scaleX(0.955) rotate(0.05deg)">35</div>
<div class="t" style="left:624px;width:66px;top:338px;transform:translate(0.3px,0.05px) scaleX(0.955) rotate(0.05deg)"><i>1</i>25</div>
<div class="t" style="left:669px;width:68px;top:339px;transform:translate(0.8px,0.05px) scaleX(0.955) rotate(0.05deg)">/</div>
<div class="t" style="left:716px;width:62px;top:339px;transform:translate(0.4px,0.05px) scaleX(0.955) rotate(0.05deg)">/</div>
<div class="t" style="left:760px;width:66px;top:339px;transform:translate(0.7px,0.05px) scaleX(0.955) rotate(0.05deg)">/</div>
<div class="t" style="left:808px;width:65px;top:339px;transform:translate(0.4px,0.05px) scaleX(0.955) rotate(0.05deg)">/</div>
<div class="t" style="left:851px;width:70px;top:339px;transform:translate(0.5px,0.05px) scaleX(0.955) rotate(0.05deg)">/</div>
<div class="m" style="top:357px;transform:translate(0px,0.35px) scaleX(0.96) rotate(0.05deg)">WD−07Ex</div>
<div class="t" style="left:172px;width:65px;top:356px;transform:translate(0.3px,0.95px) scaleX(0.955) rotate(0.05deg)">3<i>1</i>5</div>
<div class="t" style="left:218px;width:65px;top:356px;transform:translate(0.4px,0.95px) scaleX(0.955) rotate(0.05deg)">90</div>
<div class="t" style="left:262px;width:66px;top:356px;transform:translate(0.8px,0.95px) scaleX(0.955) rotate(0.05deg)">250</div>
<div class="t" style="left:309px;width:65px;top:356px;transform:translate(0.0px,0.95px) scaleX(0.955) rotate(0.05deg)">7<i>1</i></div>
<div class="t" style="left:353px;width:65px;top:356px;transform:translate(0.1px,0.95px) scaleX(0.955) rotate(0.05deg)">80</div>
<div class="t" style="left:399px;width:66px;top:356px;transform:translate(0.2px,0.95px) scaleX(0.955) rotate(0.05deg)">225</div>
<div class="t" style="left:444px;width:65px;top:356px;transform:translate(0.3px,0.95px) scaleX(0.955) rotate(0.05deg)"><i>1</i><i>1</i>2</div>
<div class="t" style="left:489px;width:66px;top:356px;transform:translate(0.5px,0.95px) scaleX(0.955) rotate(0.05deg)"><i>1</i>26</div>
<div class="t" style="left:535px;width:65px;top:356px;transform:translate(0.0px,0.95px) scaleX(0.955) rotate(0.05deg)">4−<b>Ø</b>8</div>
<div class="t" style="left:579px;width:65px;top:356px;transform:translate(0.4px,0.95px) scaleX(0.955) rotate(0.05deg)">35</div>
<div class="t" style="left:624px;width:66px;top:356px;transform:translate(0.3px,0.95px) scaleX(0.955) rotate(0.05deg)"><i>1</i>4<i>1</i></div>
<div class="t" style="left:669px;width:68px;top:357px;transform:translate(0.8px,0.95px) scaleX(0.955) rotate(0.05deg)">/</div>
<div class="t" style="left:716px;width:62px;top:357px;transform:translate(0.4px,0.95px) scaleX(0.955) rotate(0.05deg)">/</div>
<div class="t" style="left:760px;width:66px;top:357px;transform:translate(0.7px,0.95px) scaleX(0.955) rotate(0.05deg)">/</div>
<div class="t" style="left:808px;width:65px;top:357px;transform:translate(0.4px,0.95px) scaleX(0.955) rotate(0.05deg)">/</div>
<div class="t" style="left:851px;width:70px;top:357px;transform:translate(0.5px,0.95px) scaleX(0.955) rotate(0.05deg)">/</div>
<div class="m" style="top:376px;transform:translate(0px,0.25px) scaleX(0.96) rotate(0.05deg)">WD−<i>1</i>0Ex</div>
<div class="t" style="left:172px;width:65px;top:375px;transform:translate(0.3px,0.85px) scaleX(0.955) rotate(0.05deg)">340</div>
<div class="t" style="left:218px;width:65px;top:375px;transform:translate(0.4px,0.85px) scaleX(0.955) rotate(0.05deg)">90</div>
<div class="t" style="left:262px;width:66px;top:375px;transform:translate(0.8px,0.85px) scaleX(0.955) rotate(0.05deg)">250</div>
<div class="t" style="left:309px;width:65px;top:375px;transform:translate(0.0px,0.85px) scaleX(0.955) rotate(0.05deg)">7<i>1</i></div>
<div class="t" style="left:353px;width:65px;top:375px;transform:translate(0.1px,0.85px) scaleX(0.955) rotate(0.05deg)"><i>1</i>22</div>
<div class="t" style="left:399px;width:66px;top:375px;transform:translate(0.2px,0.85px) scaleX(0.955) rotate(0.05deg)">225</div>
<div class="t" style="left:444px;width:65px;top:375px;transform:translate(0.3px,0.85px) scaleX(0.955) rotate(0.05deg)"><i>1</i><i>1</i>2</div>
<div class="t" style="left:489px;width:66px;top:375px;transform:translate(0.5px,0.85px) scaleX(0.955) rotate(0.05deg)"><i>1</i>48</div>
<div class="t" style="left:535px;width:65px;top:375px;transform:translate(0.0px,0.85px) scaleX(0.955) rotate(0.05deg)">4−<b>Ø</b>8</div>
<div class="t" style="left:579px;width:65px;top:375px;transform:translate(0.4px,0.85px) scaleX(0.955) rotate(0.05deg)">55</div>
<div class="t" style="left:624px;width:66px;top:375px;transform:translate(0.3px,0.85px) scaleX(0.955) rotate(0.05deg)"><i>1</i>4<i>1</i></div>
<div class="t" style="left:669px;width:68px;top:376px;transform:translate(0.8px,0.85px) scaleX(0.955) rotate(0.05deg)">/</div>
<div class="t" style="left:716px;width:62px;top:376px;transform:translate(0.4px,0.85px) scaleX(0.955) rotate(0.05deg)">/</div>
<div class="t" style="left:760px;width:66px;top:376px;transform:translate(0.7px,0.85px) scaleX(0.955) rotate(0.05deg)">/</div>
<div class="t" style="left:808px;width:65px;top:376px;transform:translate(0.4px,0.85px) scaleX(0.955) rotate(0.05deg)">/</div>
<div class="t" style="left:851px;width:70px;top:376px;transform:translate(0.5px,0.85px) scaleX(0.955) rotate(0.05deg)">/</div>
<div class="m" style="top:395px;transform:translate(0px,0.35px) scaleX(0.96) rotate(0.05deg)">WD−<i>1</i>0SSEx</div>
<div class="t" style="left:172px;width:65px;top:394px;transform:translate(0.3px,0.95px) scaleX(0.955) rotate(0.05deg)">353</div>
<div class="t" style="left:218px;width:65px;top:394px;transform:translate(0.4px,0.95px) scaleX(0.955) rotate(0.05deg)">90</div>
<div class="t" style="left:262px;width:66px;top:394px;transform:translate(0.8px,0.95px) scaleX(0.955) rotate(0.05deg)">250</div>
<div class="t" style="left:309px;width:65px;top:394px;transform:translate(0.0px,0.95px) scaleX(0.955) rotate(0.05deg)">7<i>1</i></div>
<div class="t" style="left:353px;width:65px;top:394px;transform:translate(0.1px,0.95px) scaleX(0.955) rotate(0.05deg)"><i>1</i>20</div>
<div class="t" style="left:399px;width:66px;top:394px;transform:translate(0.2px,0.95px) scaleX(0.955) rotate(0.05deg)">225</div>
<div class="t" style="left:444px;width:65px;top:394px;transform:translate(0.3px,0.95px) scaleX(0.955) rotate(0.05deg)"><i>1</i><i>1</i>2</div>
<div class="t" style="left:489px;width:66px;top:394px;transform:translate(0.5px,0.95px) scaleX(0.955) rotate(0.05deg)"><i>1</i>68</div>
<div class="t" style="left:535px;width:65px;top:394px;transform:translate(0.0px,0.95px) scaleX(0.955) rotate(0.05deg)">4−<b>Ø</b>8</div>
<div class="t" style="left:579px;width:65px;top:394px;transform:translate(0.4px,0.95px) scaleX(0.955) rotate(0.05deg)">55</div>
<div class="t" style="left:624px;width:66px;top:394px;transform:translate(0.3px,0.95px) scaleX(0.955) rotate(0.05deg)"><i>1</i>4<i>1</i></div>
<div class="t" style="left:669px;width:68px;top:395px;transform:translate(0.8px,0.95px) scaleX(0.955) rotate(0.05deg)">/</div>
<div class="t" style="left:716px;width:62px;top:395px;transform:translate(0.4px,0.95px) scaleX(0.955) rotate(0.05deg)">/</div>
<div class="t" style="left:760px;width:66px;top:395px;transform:translate(0.7px,0.95px) scaleX(0.955) rotate(0.05deg)">/</div>
<div class="t" style="left:808px;width:65px;top:395px;transform:translate(0.4px,0.95px) scaleX(0.955) rotate(0.05deg)">/</div>
<div class="t" style="left:851px;width:70px;top:395px;transform:translate(0.5px,0.95px) scaleX(0.955) rotate(0.05deg)">/</div>
<div class="m" style="top:414px;transform:translate(0px,0.15px) scaleX(0.96) rotate(0.05deg)">WD−20Ex</div>
<div class="t" style="left:172px;width:65px;top:413px;transform:translate(0.3px,0.75px) scaleX(0.955) rotate(0.05deg)">380</div>
<div class="t" style="left:218px;width:65px;top:413px;transform:translate(0.4px,0.75px) scaleX(0.955) rotate(0.05deg)"><i>1</i>00</div>
<div class="t" style="left:262px;width:66px;top:413px;transform:translate(0.8px,0.75px) scaleX(0.955) rotate(0.05deg)">295</div>
<div class="t" style="left:309px;width:65px;top:413px;transform:translate(0.0px,0.75px) scaleX(0.955) rotate(0.05deg)">80</div>
<div class="t" style="left:353px;width:65px;top:413px;transform:translate(0.1px,0.75px) scaleX(0.955) rotate(0.05deg)"><i>1</i><i>1</i>8</div>
<div class="t" style="left:399px;width:66px;top:413px;transform:translate(0.2px,0.75px) scaleX(0.955) rotate(0.05deg)">245</div>
<div class="t" style="left:444px;width:65px;top:413px;transform:translate(0.3px,0.75px) scaleX(0.955) rotate(0.05deg)"><i>1</i>25</div>
<div class="t" style="left:489px;width:66px;top:413px;transform:translate(0.5px,0.75px) scaleX(0.955) rotate(0.05deg)">202</div>
<div class="t" style="left:535px;width:65px;top:413px;transform:translate(0.0px,0.75px) scaleX(0.955) rotate(0.05deg)">4−<b>Ø</b><i>1</i>0</div>
<div class="t" style="left:579px;width:65px;top:413px;transform:translate(0.4px,0.75px) scaleX(0.955) rotate(0.05deg)">55</div>
<div class="t" style="left:624px;width:66px;top:413px;transform:translate(0.3px,0.75px) scaleX(0.955) rotate(0.05deg)"><i>1</i>6<i>1</i></div>
<div class="t" style="left:669px;width:68px;top:414px;transform:translate(0.8px,0.75px) scaleX(0.955) rotate(0.05deg)">/</div>
<div class="t" style="left:716px;width:62px;top:414px;transform:translate(0.4px,0.75px) scaleX(0.955) rotate(0.05deg)">/</div>
<div class="t" style="left:760px;width:66px;top:414px;transform:translate(0.7px,0.75px) scaleX(0.955) rotate(0.05deg)">/</div>
<div class="t" style="left:808px;width:65px;top:414px;transform:translate(0.4px,0.75px) scaleX(0.955) rotate(0.05deg)">/</div>
<div class="t" style="left:851px;width:70px;top:414px;transform:translate(0.5px,0.75px) scaleX(0.955) rotate(0.05deg)">/</div>
<div class="m" style="top:433px;transform:translate(0px,0.55px) scaleX(0.96) rotate(0.05deg)">WD−33Ex</div>
<div class="t" style="left:172px;width:65px;top:433px;transform:translate(0.3px,0.15px) scaleX(0.955) rotate(0.05deg)">368</div>
<div class="t" style="left:218px;width:65px;top:433px;transform:translate(0.4px,0.15px) scaleX(0.955) rotate(0.05deg)"><i>1</i>25</div>
<div class="t" style="left:262px;width:66px;top:433px;transform:translate(0.8px,0.15px) scaleX(0.955) rotate(0.05deg)">3<i>1</i>5</div>
<div class="t" style="left:309px;width:65px;top:433px;transform:translate(0.0px,0.15px) scaleX(0.955) rotate(0.05deg)">90</div>
<div class="t" style="left:353px;width:65px;top:433px;transform:translate(0.1px,0.15px) scaleX(0.955) rotate(0.05deg)"><i>1</i>37</div>
<div class="t" style="left:399px;width:66px;top:433px;transform:translate(0.2px,0.15px) scaleX(0.955) rotate(0.05deg)">245</div>
<div class="t" style="left:444px;width:65px;top:433px;transform:translate(0.3px,0.15px) scaleX(0.955) rotate(0.05deg)"><i>1</i>40</div>
<div class="t" style="left:489px;width:66px;top:433px;transform:translate(0.5px,0.15px) scaleX(0.955) rotate(0.05deg)">223</div>
<div class="t" style="left:535px;width:65px;top:433px;transform:translate(0.0px,0.15px) scaleX(0.955) rotate(0.05deg)">4−<b>Ø</b><i>1</i>0</div>
<div class="t" style="left:579px;width:65px;top:433px;transform:translate(0.4px,0.15px) scaleX(0.955) rotate(0.05deg)">60</div>
<div class="t" style="left:624px;width:66px;top:433px;transform:translate(0.3px,0.15px) scaleX(0.955) rotate(0.05deg)"><i>1</i>76</div>
<div class="m" style="top:457px;transform:translate(0px,0.15px) scaleX(0.96) rotate(0.05deg)">WF−<i>1</i>0Ex</div>
<div class="t" style="left:172px;width:65px;top:457px;transform:translate(0.3px,0.55px) scaleX(0.955) rotate(0.05deg)">370</div>
<div class="t" style="left:218px;width:65px;top:457px;transform:translate(0.4px,0.55px) scaleX(0.955) rotate(0.05deg)">90</div>
<div class="t" style="left:262px;width:66px;top:457px;transform:translate(0.8px,0.55px) scaleX(0.955) rotate(0.05deg)">4−<b>Ø</b>8</div>
<div class="t" style="left:309px;width:65px;top:457px;transform:translate(0.0px,0.55px) scaleX(0.955) rotate(0.05deg)"><i>1</i>06</div>
<div class="t" style="left:353px;width:65px;top:457px;transform:translate(0.1px,0.55px) scaleX(0.955) rotate(0.05deg)">5<i>1</i></div>
<div class="t" style="left:399px;width:66px;top:457px;transform:translate(0.2px,0.55px) scaleX(0.955) rotate(0.05deg)">7<i>1</i></div>
<div class="t" style="left:444px;width:65px;top:457px;transform:translate(0.3px,0.55px) scaleX(0.955) rotate(0.05deg)"><i>1</i>62.5</div>
<div class="t" style="left:489px;width:66px;top:457px;transform:translate(0.5px,0.55px) scaleX(0.955) rotate(0.05deg)"><i>1</i><i>1</i>2</div>
<div class="t" style="left:535px;width:65px;top:457px;transform:translate(0.0px,0.55px) scaleX(0.955) rotate(0.05deg)">220</div>
<div class="t" style="left:579px;width:65px;top:457px;transform:translate(0.4px,0.55px) scaleX(0.955) rotate(0.05deg)">30</div>
<div class="t" style="left:624px;width:66px;top:457px;transform:translate(0.3px,0.55px) scaleX(0.955) rotate(0.05deg)">250</div>
<div class="t" style="left:669px;width:68px;top:458px;transform:translate(0.8px,0.55px) scaleX(0.955) rotate(0.05deg)">/</div>
<div class="t" style="left:716px;width:62px;top:458px;transform:translate(0.4px,0.55px) scaleX(0.955) rotate(0.05deg)">/</div>
<div class="t" style="left:760px;width:66px;top:458px;transform:translate(0.7px,0.55px) scaleX(0.955) rotate(0.05deg)">/</div>
<div class="t" style="left:808px;width:65px;top:458px;transform:translate(0.4px,0.55px) scaleX(0.955) rotate(0.05deg)">/</div>
<div class="t" style="left:851px;width:70px;top:458px;transform:translate(0.5px,0.55px) scaleX(0.955) rotate(0.05deg)">/</div>
<div class="m" style="top:475px;transform:translate(0px,0.95px) scaleX(0.96) rotate(0.05deg)">WF−<i>1</i>0TEx</div>
<div class="t" style="left:172px;width:65px;top:476px;transform:translate(0.3px,0.35px) scaleX(0.955) rotate(0.05deg)">370</div>
<div class="t" style="left:218px;width:65px;top:476px;transform:translate(0.4px,0.35px) scaleX(0.955) rotate(0.05deg)">90</div>
<div class="t" style="left:262px;width:66px;top:476px;transform:translate(0.8px,0.35px) scaleX(0.955) rotate(0.05deg)">4−<b>Ø</b>8</div>
<div class="t" style="left:309px;width:65px;top:476px;transform:translate(0.0px,0.35px) scaleX(0.955) rotate(0.05deg)"><i>1</i>06</div>
<div class="t" style="left:353px;width:65px;top:476px;transform:translate(0.1px,0.35px) scaleX(0.955) rotate(0.05deg)">5<i>1</i></div>
<div class="t" style="left:399px;width:66px;top:476px;transform:translate(0.2px,0.35px) scaleX(0.955) rotate(0.05deg)">7<i>1</i></div>
<div class="t" style="left:444px;width:65px;top:476px;transform:translate(0.3px,0.35px) scaleX(0.955) rotate(0.05deg)"><i>1</i>46</div>
<div class="t" style="left:489px;width:66px;top:476px;transform:translate(0.5px,0.35px) scaleX(0.955) rotate(0.05deg)"><i>1</i><i>1</i>2</div>
<div class="t" style="left:535px;width:65px;top:476px;transform:translate(0.0px,0.35px) scaleX(0.955) rotate(0.05deg)">220</div>
<div class="t" style="left:579px;width:65px;top:476px;transform:translate(0.4px,0.35px) scaleX(0.955) rotate(0.05deg)">30</div>
<div class="t" style="left:624px;width:66px;top:476px;transform:translate(0.3px,0.35px) scaleX(0.955) rotate(0.05deg)">250</div>
<div class="t" style="left:669px;width:68px;top:477px;transform:translate(0.8px,0.35px) scaleX(0.955) rotate(0.05deg)">/</div>
<div class="t" style="left:716px;width:62px;top:477px;transform:translate(0.4px,0.35px) scaleX(0.955) rotate(0.05deg)">/</div>
<div class="t" style="left:760px;width:66px;top:477px;transform:translate(0.7px,0.35px) scaleX(0.955) rotate(0.05deg)">/</div>
<div class="t" style="left:808px;width:65px;top:477px;transform:translate(0.4px,0.35px) scaleX(0.955) rotate(0.05deg)">/</div>
<div class="t" style="left:851px;width:70px;top:477px;transform:translate(0.5px,0.35px) scaleX(0.955) rotate(0.05deg)">/</div>
<div class="m" style="top:501px;transform:translate(0px,0.15px) scaleX(0.96) rotate(0.05deg)">RGZ−<i>1</i>0Ex</div>
<div class="t" style="left:172px;width:65px;top:501px;transform:translate(0.3px,0.45px) scaleX(0.955) rotate(0.05deg)">420</div>
<div class="t" style="left:218px;width:65px;top:501px;transform:translate(0.4px,0.45px) scaleX(0.955) rotate(0.05deg)">90</div>
<div class="t" style="left:262px;width:66px;top:503px;transform:translate(0.8px,0.05px) scaleX(0.955) rotate(0.05deg)">240</div>
<div class="t" style="left:309px;width:65px;top:503px;transform:translate(0.0px,0.05px) scaleX(0.955) rotate(0.05deg)">98</div>
<div class="t" style="left:353px;width:65px;top:503px;transform:translate(0.1px,0.05px) scaleX(0.955) rotate(0.05deg)">50.5</div>
<div class="t" style="left:399px;width:66px;top:501px;transform:translate(0.2px,0.95px) scaleX(0.955) rotate(0.05deg)">225</div>
<div class="t" style="left:444px;width:65px;top:503px;transform:translate(0.3px,0.75px) scaleX(0.955) rotate(0.05deg)"><i>1</i>25</div>
<div class="t" style="left:489px;width:66px;top:503px;transform:translate(0.5px,0.75px) scaleX(0.955) rotate(0.05deg)">48.5</div>
<div class="t" style="left:535px;width:65px;top:503px;transform:translate(0.0px,0.45px) scaleX(0.955) rotate(0.05deg)"><i>1</i>75</div>
<div class="t" style="left:579px;width:65px;top:503px;transform:translate(0.4px,0.45px) scaleX(0.955) rotate(0.05deg)">7<i>1</i></div>
<div class="t" style="left:624px;width:66px;top:502px;transform:translate(0.3px,0.65px) scaleX(0.955) rotate(0.05deg)"><i>1</i>00</div>
<div class="t" style="left:669px;width:68px;top:504px;transform:translate(0.8px,0.05px) scaleX(0.955) rotate(0.05deg)">4−<b>Ø</b><i>1</i>3</div>
<div class="t" style="left:716px;width:62px;top:504px;transform:translate(0.4px,0.05px) scaleX(0.955) rotate(0.05deg)"><b>Ø</b>78</div>
<div class="t" style="left:760px;width:66px;top:503px;transform:translate(0.7px,0.25px) scaleX(0.955) rotate(0.05deg)">4−<b>Ø</b><i>1</i>0</div>
<div class="t" style="left:808px;width:65px;top:504px;transform:translate(0.4px,0.45px) scaleX(0.955) rotate(0.05deg)">282</div>
<div class="t" style="left:853px;width:70px;top:504px;transform:translate(0.8px,0.45px) scaleX(0.955) rotate(0.05deg)">94</div>
<div class="m" style="top:520px;transform:translate(0px,0.05px) scaleX(0.96) rotate(0.05deg)">RGZ−20Ex</div>
<div class="t" style="left:172px;width:65px;top:520px;transform:translate(0.3px,0.35px) scaleX(0.955) rotate(0.05deg)">435</div>
<div class="t" style="left:218px;width:65px;top:520px;transform:translate(0.4px,0.35px) scaleX(0.955) rotate(0.05deg)"><i>1</i>00</div>
<div class="t" style="left:262px;width:66px;top:521px;transform:translate(0.8px,0.95px) scaleX(0.955) rotate(0.05deg)">249</div>
<div class="t" style="left:309px;width:65px;top:521px;transform:translate(0.0px,0.95px) scaleX(0.955) rotate(0.05deg)"><i>1</i>07</div>
<div class="t" style="left:353px;width:65px;top:521px;transform:translate(0.1px,0.95px) scaleX(0.955) rotate(0.05deg)">50.5</div>
<div class="t" style="left:399px;width:66px;top:520px;transform:translate(0.2px,0.85px) scaleX(0.955) rotate(0.05deg)">245</div>
<div class="t" style="left:444px;width:65px;top:522px;transform:translate(0.3px,0.65px) scaleX(0.955) rotate(0.05deg)"><i>1</i>25</div>
<div class="t" style="left:489px;width:66px;top:522px;transform:translate(0.5px,0.65px) scaleX(0.955) rotate(0.05deg)">37.5</div>
<div class="t" style="left:535px;width:65px;top:522px;transform:translate(0.0px,0.35px) scaleX(0.955) rotate(0.05deg)"><i>1</i>75</div>
<div class="t" style="left:579px;width:65px;top:522px;transform:translate(0.4px,0.35px) scaleX(0.955) rotate(0.05deg)">80</div>
<div class="t" style="left:624px;width:66px;top:521px;transform:translate(0.3px,0.55px) scaleX(0.955) rotate(0.05deg)">79</div>
<div class="t" style="left:669px;width:68px;top:522px;transform:translate(0.8px,0.95px) scaleX(0.955) rotate(0.05deg)">4−<b>Ø</b><i>1</i>3</div>
<div class="t" style="left:716px;width:62px;top:522px;transform:translate(0.4px,0.95px) scaleX(0.955) rotate(0.05deg)"><b>Ø</b>78</div>
<div class="t" style="left:760px;width:66px;top:522px;transform:translate(0.7px,0.15px) scaleX(0.955) rotate(0.05deg)">4−<b>Ø</b><i>1</i>0</div>
<div class="t" style="left:808px;width:65px;top:523px;transform:translate(0.4px,0.35px) scaleX(0.955) rotate(0.05deg)">322</div>
<div class="t" style="left:853px;width:70px;top:523px;transform:translate(0.8px,0.35px) scaleX(0.955) rotate(0.05deg)"><i>1</i>07</div>
<div class="m" style="top:538px;transform:translate(0px,0.85px) scaleX(0.96) rotate(0.05deg)">RGZ−30Ex</div>
<div class="t" style="left:172px;width:65px;top:539px;transform:translate(0.3px,0.15px) scaleX(0.955) rotate(0.05deg)">508</div>
<div class="t" style="left:218px;width:65px;top:539px;transform:translate(0.4px,0.15px) scaleX(0.955) rotate(0.05deg)"><i>1</i>25</div>
<div class="t" style="left:262px;width:66px;top:540px;transform:translate(0.8px,0.75px) scaleX(0.955) rotate(0.05deg)">275</div>
<div class="t" style="left:309px;width:65px;top:540px;transform:translate(0.0px,0.75px) scaleX(0.955) rotate(0.05deg)"><i>1</i><i>1</i>7</div>
<div class="t" style="left:353px;width:65px;top:540px;transform:translate(0.1px,0.75px) scaleX(0.955) rotate(0.05deg)">55</div>
<div class="t" style="left:399px;width:66px;top:539px;transform:translate(0.2px,0.65px) scaleX(0.955) rotate(0.05deg)">247</div>
<div class="t" style="left:444px;width:65px;top:541px;transform:translate(0.3px,0.45px) scaleX(0.955) rotate(0.05deg)"><i>1</i>35</div>
<div class="t" style="left:489px;width:66px;top:541px;transform:translate(0.5px,0.45px) scaleX(0.955) rotate(0.05deg)">60</div>
<div class="t" style="left:535px;width:65px;top:541px;transform:translate(0.0px,0.15px) scaleX(0.955) rotate(0.05deg)"><i>1</i>75</div>
<div class="t" style="left:579px;width:65px;top:541px;transform:translate(0.4px,0.15px) scaleX(0.955) rotate(0.05deg)">90</div>
<div class="t" style="left:624px;width:66px;top:540px;transform:translate(0.3px,0.35px) scaleX(0.955) rotate(0.05deg)">96</div>
<div class="t" style="left:669px;width:68px;top:541px;transform:translate(0.8px,0.75px) scaleX(0.955) rotate(0.05deg)">4−<b>Ø</b><i>1</i>3</div>
<div class="t" style="left:716px;width:62px;top:541px;transform:translate(0.4px,0.75px) scaleX(0.955) rotate(0.05deg)"><b>Ø</b>94</div>
<div class="t" style="left:760px;width:66px;top:540px;transform:translate(0.7px,0.95px) scaleX(0.955) rotate(0.05deg)">4−<b>Ø</b><i>1</i><i>1</i></div>
<div class="t" style="left:808px;width:65px;top:542px;transform:translate(0.4px,0.15px) scaleX(0.955) rotate(0.05deg)">354</div>
<div class="t" style="left:853px;width:70px;top:542px;transform:translate(0.8px,0.15px) scaleX(0.955) rotate(0.05deg)"><i>1</i>22</div>
<div class="m" style="top:564px;transform:translate(0px,0.45px) scaleX(0.96) rotate(0.05deg)">WM−033Ex</div>
<div class="t" style="left:172px;width:65px;top:564px;transform:translate(0.3px,0.65px) scaleX(0.955) rotate(0.05deg)">340</div>
<div class="t" style="left:218px;width:65px;top:564px;transform:translate(0.4px,0.65px) scaleX(0.955) rotate(0.05deg)">80</div>
<div class="t" style="left:262px;width:66px;top:564px;transform:translate(0.8px,0.65px) scaleX(0.955) rotate(0.05deg)"><i>1</i>98</div>
<div class="t" style="left:309px;width:65px;top:564px;transform:translate(0.0px,0.65px) scaleX(0.955) rotate(0.05deg)">63</div>
<div class="t" style="left:353px;width:65px;top:564px;transform:translate(0.1px,0.65px) scaleX(0.955) rotate(0.05deg)">54</div>
<div class="t" style="left:399px;width:66px;top:564px;transform:translate(0.2px,0.65px) scaleX(0.955) rotate(0.05deg)">220</div>
<div class="t" style="left:444px;width:65px;top:564px;transform:translate(0.3px,0.65px) scaleX(0.955) rotate(0.05deg)"><i>1</i>00</div>
<div class="t" style="left:489px;width:66px;top:564px;transform:translate(0.5px,0.65px) scaleX(0.955) rotate(0.05deg)"><i>1</i>42.5</div>
<div class="t" style="left:535px;width:65px;top:564px;transform:translate(0.0px,0.65px) scaleX(0.955) rotate(0.05deg)"><i>1</i><i>1</i>3</div>
<div class="t" style="left:579px;width:65px;top:564px;transform:translate(0.4px,0.65px) scaleX(0.955) rotate(0.05deg)">28</div>
<div class="t" style="left:624px;width:66px;top:564px;transform:translate(0.3px,0.65px) scaleX(0.955) rotate(0.05deg)"><i>1</i>56</div>
<div class="t" style="left:669px;width:68px;top:564px;transform:translate(0.8px,0.65px) scaleX(0.955) rotate(0.05deg)">4−<b>Ø</b>7</div>
<div class="t" style="left:716px;width:62px;top:564px;transform:translate(0.4px,0.65px) scaleX(0.955) rotate(0.05deg)">68</div>
<div class="t" style="left:760px;width:66px;top:564px;transform:translate(0.7px,0.65px) scaleX(0.955) rotate(0.05deg)">2−<b>Ø</b>9</div>
<div class="t" style="left:808px;width:65px;top:564px;transform:translate(0.4px,0.65px) scaleX(0.955) rotate(0.05deg)">230</div>
<div class="t" style="left:853px;width:70px;top:564px;transform:translate(0.7px,0.65px) scaleX(0.955) rotate(0.05deg)"><i>1</i>72</div>
<div class="m" style="top:583px;transform:translate(0px,0.35px) scaleX(0.96) rotate(0.05deg)">WM−05Ex</div>
<div class="t" style="left:172px;width:65px;top:583px;transform:translate(0.3px,0.55px) scaleX(0.955) rotate(0.05deg)">36<i>1</i></div>
<div class="t" style="left:218px;width:65px;top:583px;transform:translate(0.4px,0.55px) scaleX(0.955) rotate(0.05deg)">90</div>
<div class="t" style="left:262px;width:66px;top:583px;transform:translate(0.8px,0.55px) scaleX(0.955) rotate(0.05deg)">205</div>
<div class="t" style="left:309px;width:65px;top:583px;transform:translate(0.0px,0.55px) scaleX(0.955) rotate(0.05deg)">7<i>1</i></div>
<div class="t" style="left:353px;width:65px;top:583px;transform:translate(0.1px,0.55px) scaleX(0.955) rotate(0.05deg)">54</div>
<div class="t" style="left:399px;width:66px;top:583px;transform:translate(0.2px,0.55px) scaleX(0.955) rotate(0.05deg)">230</div>
<div class="t" style="left:444px;width:65px;top:583px;transform:translate(0.3px,0.55px) scaleX(0.955) rotate(0.05deg)"><i>1</i><i>1</i>2</div>
<div class="t" style="left:489px;width:66px;top:583px;transform:translate(0.5px,0.55px) scaleX(0.955) rotate(0.05deg)"><i>1</i>5<i>1</i></div>
<div class="t" style="left:535px;width:65px;top:583px;transform:translate(0.0px,0.55px) scaleX(0.955) rotate(0.05deg)"><i>1</i><i>1</i>6</div>
<div class="t" style="left:579px;width:65px;top:583px;transform:translate(0.4px,0.55px) scaleX(0.955) rotate(0.05deg)">28</div>
<div class="t" style="left:624px;width:66px;top:583px;transform:translate(0.3px,0.55px) scaleX(0.955) rotate(0.05deg)"><i>1</i>59</div>
<div class="t" style="left:669px;width:68px;top:583px;transform:translate(0.8px,0.55px) scaleX(0.955) rotate(0.05deg)">4−<b>Ø</b>8</div>
<div class="t" style="left:716px;width:62px;top:583px;transform:translate(0.4px,0.55px) scaleX(0.955) rotate(0.05deg)">68</div>
<div class="t" style="left:760px;width:66px;top:583px;transform:translate(0.7px,0.55px) scaleX(0.955) rotate(0.05deg)">2−<b>Ø</b>9</div>
<div class="t" style="left:808px;width:65px;top:583px;transform:translate(0.4px,0.55px) scaleX(0.955) rotate(0.05deg)">255</div>
<div class="t" style="left:853px;width:70px;top:583px;transform:translate(0.7px,0.55px) scaleX(0.955) rotate(0.05deg)"><i>1</i>80</div>
<div class="m" style="top:602px;transform:translate(0px,0.45px) scaleX(0.96) rotate(0.05deg)">WM−<i>1</i>0Ex</div>
<div class="t" style="left:172px;width:65px;top:602px;transform:translate(0.3px,0.65px) scaleX(0.955) rotate(0.05deg)">370</div>
<div class="t" style="left:218px;width:65px;top:602px;transform:translate(0.4px,0.65px) scaleX(0.955) rotate(0.05deg)">90</div>
<div class="t" style="left:262px;width:66px;top:602px;transform:translate(0.8px,0.65px) scaleX(0.955) rotate(0.05deg)"><i>1</i>99.5</div>
<div class="t" style="left:309px;width:65px;top:602px;transform:translate(0.0px,0.65px) scaleX(0.955) rotate(0.05deg)">7<i>1</i></div>
<div class="t" style="left:353px;width:65px;top:602px;transform:translate(0.1px,0.65px) scaleX(0.955) rotate(0.05deg)">66</div>
<div class="t" style="left:399px;width:66px;top:602px;transform:translate(0.2px,0.65px) scaleX(0.955) rotate(0.05deg)">225</div>
<div class="t" style="left:444px;width:65px;top:602px;transform:translate(0.3px,0.65px) scaleX(0.955) rotate(0.05deg)"><i>1</i><i>1</i>2</div>
<div class="t" style="left:489px;width:66px;top:602px;transform:translate(0.5px,0.65px) scaleX(0.955) rotate(0.05deg)"><i>1</i>27</div>
<div class="t" style="left:535px;width:65px;top:602px;transform:translate(0.0px,0.65px) scaleX(0.955) rotate(0.05deg)"><i>1</i><i>1</i>7.5</div>
<div class="t" style="left:579px;width:65px;top:603px;transform:translate(0.4px,0.65px) scaleX(0.955) rotate(0.05deg)">/</div>
<div class="t" style="left:624px;width:66px;top:602px;transform:translate(0.3px,0.65px) scaleX(0.955) rotate(0.05deg)"><i>1</i>60.5</div>
<div class="t" style="left:669px;width:68px;top:602px;transform:translate(0.8px,0.65px) scaleX(0.955) rotate(0.05deg)">4−<b>Ø</b>8</div>
<div class="t" style="left:716px;width:62px;top:602px;transform:translate(0.4px,0.65px) scaleX(0.955) rotate(0.05deg)">68</div>
<div class="t" style="left:760px;width:66px;top:602px;transform:translate(0.7px,0.65px) scaleX(0.955) rotate(0.05deg)">2−<b>Ø</b>9</div>
<div class="t" style="left:808px;width:65px;top:602px;transform:translate(0.4px,0.65px) scaleX(0.955) rotate(0.05deg)">255</div>
<div class="t" style="left:853px;width:70px;top:602px;transform:translate(0.7px,0.65px) scaleX(0.955) rotate(0.05deg)"><i>1</i>75</div>
<div class="m" style="top:621px;transform:translate(0px,0.25px) scaleX(0.96) rotate(0.05deg)">WM−20Ex</div>
<div class="t" style="left:172px;width:65px;top:621px;transform:translate(0.3px,0.45px) scaleX(0.955) rotate(0.05deg)">420</div>
<div class="t" style="left:218px;width:65px;top:621px;transform:translate(0.4px,0.45px) scaleX(0.955) rotate(0.05deg)"><i>1</i>00</div>
<div class="t" style="left:262px;width:66px;top:621px;transform:translate(0.8px,0.45px) scaleX(0.955) rotate(0.05deg)"><i>1</i>9<i>1</i>.5</div>
<div class="t" style="left:309px;width:65px;top:621px;transform:translate(0.0px,0.45px) scaleX(0.955) rotate(0.05deg)">80</div>
<div class="t" style="left:353px;width:65px;top:621px;transform:translate(0.1px,0.45px) scaleX(0.955) rotate(0.05deg)">72</div>
<div class="t" style="left:399px;width:66px;top:621px;transform:translate(0.2px,0.45px) scaleX(0.955) rotate(0.05deg)">242</div>
<div class="t" style="left:444px;width:65px;top:621px;transform:translate(0.3px,0.45px) scaleX(0.955) rotate(0.05deg)"><i>1</i>25</div>
<div class="t" style="left:489px;width:66px;top:621px;transform:translate(0.5px,0.45px) scaleX(0.955) rotate(0.05deg)"><i>1</i>49</div>
<div class="t" style="left:535px;width:65px;top:621px;transform:translate(0.0px,0.45px) scaleX(0.955) rotate(0.05deg)"><i>1</i>35</div>
<div class="t" style="left:579px;width:65px;top:622px;transform:translate(0.4px,0.45px) scaleX(0.955) rotate(0.05deg)">/</div>
<div class="t" style="left:624px;width:66px;top:621px;transform:translate(0.3px,0.45px) scaleX(0.955) rotate(0.05deg)"><i>1</i>8<i>1</i></div>
<div class="t" style="left:669px;width:68px;top:621px;transform:translate(0.8px,0.45px) scaleX(0.955) rotate(0.05deg)">4−<b>Ø</b><i>1</i>0</div>
<div class="t" style="left:716px;width:62px;top:621px;transform:translate(0.4px,0.45px) scaleX(0.955) rotate(0.05deg)">73</div>
<div class="t" style="left:760px;width:66px;top:621px;transform:translate(0.7px,0.45px) scaleX(0.955) rotate(0.05deg)">2−<b>Ø</b>9</div>
<div class="t" style="left:808px;width:65px;top:621px;transform:translate(0.4px,0.45px) scaleX(0.955) rotate(0.05deg)">295</div>
<div class="t" style="left:853px;width:70px;top:621px;transform:translate(0.7px,0.45px) scaleX(0.955) rotate(0.05deg)"><i>1</i>98</div>
<div class="m" style="top:640px;transform:translate(0px,0.35px) scaleX(0.96) rotate(0.05deg)">WM−30Ex</div>
<div class="t" style="left:172px;width:65px;top:640px;transform:translate(0.3px,0.55px) scaleX(0.955) rotate(0.05deg)">426.5</div>
<div class="t" style="left:218px;width:65px;top:640px;transform:translate(0.4px,0.55px) scaleX(0.955) rotate(0.05deg)"><i>1</i>25</div>
<div class="t" style="left:262px;width:66px;top:640px;transform:translate(0.8px,0.55px) scaleX(0.955) rotate(0.05deg)">220</div>
<div class="t" style="left:309px;width:65px;top:640px;transform:translate(0.0px,0.55px) scaleX(0.955) rotate(0.05deg)">90</div>
<div class="t" style="left:353px;width:65px;top:640px;transform:translate(0.1px,0.55px) scaleX(0.955) rotate(0.05deg)">70</div>
<div class="t" style="left:399px;width:66px;top:640px;transform:translate(0.2px,0.55px) scaleX(0.955) rotate(0.05deg)">242</div>
<div class="t" style="left:444px;width:65px;top:640px;transform:translate(0.3px,0.55px) scaleX(0.955) rotate(0.05deg)"><i>1</i>40</div>
<div class="t" style="left:489px;width:66px;top:640px;transform:translate(0.5px,0.55px) scaleX(0.955) rotate(0.05deg)"><i>1</i>75</div>
<div class="t" style="left:535px;width:65px;top:640px;transform:translate(0.0px,0.55px) scaleX(0.955) rotate(0.05deg)"><i>1</i>22</div>
<div class="t" style="left:579px;width:65px;top:640px;transform:translate(0.4px,0.55px) scaleX(0.955) rotate(0.05deg)">40</div>
<div class="t" style="left:624px;width:66px;top:640px;transform:translate(0.3px,0.55px) scaleX(0.955) rotate(0.05deg)"><i>1</i><i>1</i>5.5</div>
<div class="t" style="left:669px;width:68px;top:640px;transform:translate(0.8px,0.55px) scaleX(0.955) rotate(0.05deg)">4−<b>Ø</b><i>1</i>0</div>
<div class="t" style="left:716px;width:62px;top:641px;transform:translate(0.4px,0.55px) scaleX(0.955) rotate(0.05deg)">/</div>
<div class="t" style="left:760px;width:66px;top:641px;transform:translate(0.7px,0.55px) scaleX(0.955) rotate(0.05deg)">/</div>
<div class="t" style="left:808px;width:65px;top:640px;transform:translate(0.4px,0.55px) scaleX(0.955) rotate(0.05deg)">3<i>1</i>0</div>
<div class="t" style="left:853px;width:70px;top:641px;transform:translate(0.7px,0.55px) scaleX(0.955) rotate(0.05deg)">/</div>
</div>
</body></html>
